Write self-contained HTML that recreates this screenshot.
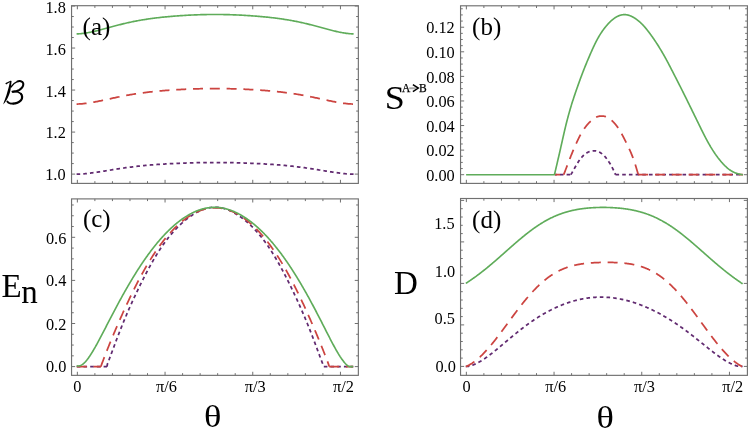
<!DOCTYPE html>
<html><head><meta charset="utf-8"><style>
html,body{margin:0;padding:0;background:#fff;}
body{width:750px;height:430px;overflow:hidden;font-family:"Liberation Serif",serif;}
svg{display:block;will-change:transform;}
</style></head><body>
<svg width="750" height="430" viewBox="0 0 750 430">
<rect width="750" height="430" fill="#fff"/>
<path d="M77.35 183.4v-3.6M77.35 5.7v3.6M94.89 183.4v-2.2M94.89 5.7v2.2M112.43 183.4v-2.2M112.43 5.7v2.2M129.97 183.4v-2.2M129.97 5.7v2.2M147.51 183.4v-2.2M147.51 5.7v2.2M165.05 183.4v-3.6M165.05 5.7v3.6M182.59 183.4v-2.2M182.59 5.7v2.2M200.13 183.4v-2.2M200.13 5.7v2.2M217.67 183.4v-2.2M217.67 5.7v2.2M235.21 183.4v-2.2M235.21 5.7v2.2M252.75 183.4v-3.6M252.75 5.7v3.6M270.29 183.4v-2.2M270.29 5.7v2.2M287.83 183.4v-2.2M287.83 5.7v2.2M305.37 183.4v-2.2M305.37 5.7v2.2M322.91 183.4v-2.2M322.91 5.7v2.2M340.45 183.4v-3.6M340.45 5.7v3.6M71.55 174.1h3.6M358.35 174.1h-3.6M71.55 163.59h2.2M358.35 163.59h-2.2M71.55 153.09h2.2M358.35 153.09h-2.2M71.55 142.58h2.2M358.35 142.58h-2.2M71.55 132.08h3.6M358.35 132.08h-3.6M71.55 121.57h2.2M358.35 121.57h-2.2M71.55 111.07h2.2M358.35 111.07h-2.2M71.55 100.56h2.2M358.35 100.56h-2.2M71.55 90.06h3.6M358.35 90.06h-3.6M71.55 79.55h2.2M358.35 79.55h-2.2M71.55 69.05h2.2M358.35 69.05h-2.2M71.55 58.54h2.2M358.35 58.54h-2.2M71.55 48.04h3.6M358.35 48.04h-3.6M71.55 37.53h2.2M358.35 37.53h-2.2M71.55 27.03h2.2M358.35 27.03h-2.2M71.55 16.52h2.2M358.35 16.52h-2.2M71.55 6.02h3.6M358.35 6.02h-3.6" stroke="#707070" stroke-width="1.0" fill="none"/>
<path d="M466.35 183.4v-3.6M466.35 5.8v3.6M483.89 183.4v-2.2M483.89 5.8v2.2M501.43 183.4v-2.2M501.43 5.8v2.2M518.97 183.4v-2.2M518.97 5.8v2.2M536.51 183.4v-2.2M536.51 5.8v2.2M554.05 183.4v-3.6M554.05 5.8v3.6M571.59 183.4v-2.2M571.59 5.8v2.2M589.13 183.4v-2.2M589.13 5.8v2.2M606.67 183.4v-2.2M606.67 5.8v2.2M624.21 183.4v-2.2M624.21 5.8v2.2M641.75 183.4v-3.6M641.75 5.8v3.6M659.29 183.4v-2.2M659.29 5.8v2.2M676.83 183.4v-2.2M676.83 5.8v2.2M694.37 183.4v-2.2M694.37 5.8v2.2M711.91 183.4v-2.2M711.91 5.8v2.2M729.45 183.4v-3.6M729.45 5.8v3.6M460.55 174.7h3.6M747.4 174.7h-3.6M460.55 168.55h2.2M747.4 168.55h-2.2M460.55 162.41h2.2M747.4 162.41h-2.2M460.55 156.26h2.2M747.4 156.26h-2.2M460.55 150.12h3.6M747.4 150.12h-3.6M460.55 143.97h2.2M747.4 143.97h-2.2M460.55 137.83h2.2M747.4 137.83h-2.2M460.55 131.69h2.2M747.4 131.69h-2.2M460.55 125.54h3.6M747.4 125.54h-3.6M460.55 119.39h2.2M747.4 119.39h-2.2M460.55 113.25h2.2M747.4 113.25h-2.2M460.55 107.1h2.2M747.4 107.1h-2.2M460.55 100.96h3.6M747.4 100.96h-3.6M460.55 94.81h2.2M747.4 94.81h-2.2M460.55 88.67h2.2M747.4 88.67h-2.2M460.55 82.52h2.2M747.4 82.52h-2.2M460.55 76.38h3.6M747.4 76.38h-3.6M460.55 70.23h2.2M747.4 70.23h-2.2M460.55 64.09h2.2M747.4 64.09h-2.2M460.55 57.94h2.2M747.4 57.94h-2.2M460.55 51.8h3.6M747.4 51.8h-3.6M460.55 45.66h2.2M747.4 45.66h-2.2M460.55 39.51h2.2M747.4 39.51h-2.2M460.55 33.36h2.2M747.4 33.36h-2.2M460.55 27.22h3.6M747.4 27.22h-3.6M460.55 21.07h2.2M747.4 21.07h-2.2M460.55 14.93h2.2M747.4 14.93h-2.2M460.55 8.78h2.2M747.4 8.78h-2.2" stroke="#707070" stroke-width="1.0" fill="none"/>
<path d="M77.35 375.35v-3.6M77.35 198.9v3.6M94.89 375.35v-2.2M94.89 198.9v2.2M112.43 375.35v-2.2M112.43 198.9v2.2M129.97 375.35v-2.2M129.97 198.9v2.2M147.51 375.35v-2.2M147.51 198.9v2.2M165.05 375.35v-3.6M165.05 198.9v3.6M182.59 375.35v-2.2M182.59 198.9v2.2M200.13 375.35v-2.2M200.13 198.9v2.2M217.67 375.35v-2.2M217.67 198.9v2.2M235.21 375.35v-2.2M235.21 198.9v2.2M252.75 375.35v-3.6M252.75 198.9v3.6M270.29 375.35v-2.2M270.29 198.9v2.2M287.83 375.35v-2.2M287.83 198.9v2.2M305.37 375.35v-2.2M305.37 198.9v2.2M322.91 375.35v-2.2M322.91 198.9v2.2M340.45 375.35v-3.6M340.45 198.9v3.6M71.55 366.6h3.6M358.35 366.6h-3.6M71.55 355.83h2.2M358.35 355.83h-2.2M71.55 345.05h2.2M358.35 345.05h-2.2M71.55 334.28h2.2M358.35 334.28h-2.2M71.55 323.5h3.6M358.35 323.5h-3.6M71.55 312.73h2.2M358.35 312.73h-2.2M71.55 301.95h2.2M358.35 301.95h-2.2M71.55 291.18h2.2M358.35 291.18h-2.2M71.55 280.4h3.6M358.35 280.4h-3.6M71.55 269.62h2.2M358.35 269.62h-2.2M71.55 258.85h2.2M358.35 258.85h-2.2M71.55 248.08h2.2M358.35 248.08h-2.2M71.55 237.3h3.6M358.35 237.3h-3.6M71.55 226.53h2.2M358.35 226.53h-2.2M71.55 215.75h2.2M358.35 215.75h-2.2M71.55 204.98h2.2M358.35 204.98h-2.2" stroke="#707070" stroke-width="1.0" fill="none"/>
<path d="M466.35 375.35v-3.6M466.35 198.5v3.6M483.89 375.35v-2.2M483.89 198.5v2.2M501.43 375.35v-2.2M501.43 198.5v2.2M518.97 375.35v-2.2M518.97 198.5v2.2M536.51 375.35v-2.2M536.51 198.5v2.2M554.05 375.35v-3.6M554.05 198.5v3.6M571.59 375.35v-2.2M571.59 198.5v2.2M589.13 375.35v-2.2M589.13 198.5v2.2M606.67 375.35v-2.2M606.67 198.5v2.2M624.21 375.35v-2.2M624.21 198.5v2.2M641.75 375.35v-3.6M641.75 198.5v3.6M659.29 375.35v-2.2M659.29 198.5v2.2M676.83 375.35v-2.2M676.83 198.5v2.2M694.37 375.35v-2.2M694.37 198.5v2.2M711.91 375.35v-2.2M711.91 198.5v2.2M729.45 375.35v-3.6M729.45 198.5v3.6M460.55 366.4h3.6M747.4 366.4h-3.6M460.55 358.1h2.2M747.4 358.1h-2.2M460.55 349.8h2.2M747.4 349.8h-2.2M460.55 341.5h2.2M747.4 341.5h-2.2M460.55 333.2h2.2M747.4 333.2h-2.2M460.55 324.9h3.6M747.4 324.9h-3.6M460.55 316.6h2.2M747.4 316.6h-2.2M460.55 308.3h2.2M747.4 308.3h-2.2M460.55 300h2.2M747.4 300h-2.2M460.55 291.7h2.2M747.4 291.7h-2.2M460.55 283.4h3.6M747.4 283.4h-3.6M460.55 275.1h2.2M747.4 275.1h-2.2M460.55 266.8h2.2M747.4 266.8h-2.2M460.55 258.5h2.2M747.4 258.5h-2.2M460.55 250.2h2.2M747.4 250.2h-2.2M460.55 241.9h3.6M747.4 241.9h-3.6M460.55 233.6h2.2M747.4 233.6h-2.2M460.55 225.3h2.2M747.4 225.3h-2.2M460.55 217h2.2M747.4 217h-2.2M460.55 208.7h2.2M747.4 208.7h-2.2M460.55 200.4h3.6M747.4 200.4h-3.6" stroke="#707070" stroke-width="1.0" fill="none"/>
<clipPath id="clipa"><rect x="71.55" y="5.7" width="286.8" height="177.7"/></clipPath>
<clipPath id="clipb"><rect x="460.55" y="5.8" width="286.85" height="177.6"/></clipPath>
<clipPath id="clipc"><rect x="71.55" y="198.9" width="286.8" height="176.45"/></clipPath>
<clipPath id="clipd"><rect x="460.55" y="198.5" width="286.85" height="176.85"/></clipPath>
<clipPath id="clipb2"><rect x="554.9" y="5" width="193" height="179"/></clipPath>
<path d="M76.6 174.1 L77.53 174.09 L78.45 174.07 L79.38 174.04 L80.31 174 L81.23 173.95 L82.16 173.89 L83.08 173.83 L84.01 173.76 L84.94 173.69 L85.86 173.6 L86.79 173.51 L87.72 173.42 L88.64 173.32 L89.57 173.21 L90.5 173.1 L91.42 172.99 L92.35 172.87 L93.28 172.74 L94.2 172.62 L95.13 172.49 L96.05 172.35 L96.98 172.22 L97.91 172.08 L98.83 171.94 L99.76 171.8 L100.69 171.65 L101.61 171.5 L102.54 171.36 L103.47 171.21 L104.39 171.06 L105.32 170.91 L106.25 170.76 L107.17 170.61 L108.1 170.46 L109.02 170.31 L109.95 170.15 L110.88 170 L111.8 169.85 L112.73 169.7 L113.66 169.56 L114.58 169.41 L115.51 169.26 L116.44 169.12 L117.36 168.97 L118.29 168.83 L119.22 168.69 L120.14 168.55 L121.07 168.41 L121.99 168.27 L122.92 168.14 L123.85 168 L124.77 167.87 L125.7 167.74 L126.63 167.61 L127.55 167.49 L128.48 167.36 L129.41 167.24 L130.33 167.12 L131.26 167.01 L132.19 166.89 L133.11 166.78 L134.04 166.66 L134.96 166.55 L135.89 166.45 L136.82 166.34 L137.74 166.24 L138.67 166.14 L139.6 166.04 L140.52 165.94 L141.45 165.84 L142.38 165.75 L143.3 165.66 L144.23 165.57 L145.16 165.48 L146.08 165.39 L147.01 165.31 L147.93 165.23 L148.86 165.15 L149.79 165.07 L150.71 164.99 L151.64 164.92 L152.57 164.84 L153.49 164.77 L154.42 164.7 L155.35 164.63 L156.27 164.56 L157.2 164.49 L158.13 164.43 L159.05 164.37 L159.98 164.3 L160.9 164.24 L161.83 164.18 L162.76 164.12 L163.68 164.07 L164.61 164.01 L165.54 163.96 L166.46 163.9 L167.39 163.85 L168.32 163.8 L169.24 163.75 L170.17 163.7 L171.09 163.65 L172.02 163.61 L172.95 163.56 L173.87 163.52 L174.8 163.47 L175.73 163.43 L176.65 163.39 L177.58 163.35 L178.51 163.31 L179.43 163.27 L180.36 163.23 L181.29 163.19 L182.21 163.16 L183.14 163.12 L184.06 163.09 L184.99 163.05 L185.92 163.02 L186.84 162.99 L187.77 162.96 L188.7 162.93 L189.62 162.9 L190.55 162.87 L191.48 162.85 L192.4 162.82 L193.33 162.79 L194.26 162.77 L195.18 162.75 L196.11 162.73 L197.03 162.71 L197.96 162.69 L198.89 162.67 L199.81 162.65 L200.74 162.63 L201.67 162.62 L202.59 162.6 L203.52 162.59 L204.45 162.57 L205.37 162.56 L206.3 162.55 L207.23 162.54 L208.15 162.53 L209.08 162.53 L210 162.52 L210.93 162.51 L211.86 162.51 L212.78 162.51 L213.71 162.51 L214.64 162.5 L215.56 162.5 L216.49 162.51 L217.42 162.51 L218.34 162.51 L219.27 162.51 L220.2 162.52 L221.12 162.53 L222.05 162.53 L222.97 162.54 L223.9 162.55 L224.83 162.56 L225.75 162.57 L226.68 162.59 L227.61 162.6 L228.53 162.62 L229.46 162.63 L230.39 162.65 L231.31 162.67 L232.24 162.69 L233.17 162.71 L234.09 162.73 L235.02 162.75 L235.94 162.77 L236.87 162.79 L237.8 162.82 L238.72 162.85 L239.65 162.87 L240.58 162.9 L241.5 162.93 L242.43 162.96 L243.36 162.99 L244.28 163.02 L245.21 163.05 L246.14 163.09 L247.06 163.12 L247.99 163.16 L248.91 163.19 L249.84 163.23 L250.77 163.27 L251.69 163.31 L252.62 163.35 L253.55 163.39 L254.47 163.43 L255.4 163.47 L256.33 163.52 L257.25 163.56 L258.18 163.61 L259.11 163.65 L260.03 163.7 L260.96 163.75 L261.88 163.8 L262.81 163.85 L263.74 163.9 L264.66 163.96 L265.59 164.01 L266.52 164.07 L267.44 164.12 L268.37 164.18 L269.3 164.24 L270.22 164.3 L271.15 164.37 L272.07 164.43 L273 164.49 L273.93 164.56 L274.85 164.63 L275.78 164.7 L276.71 164.77 L277.63 164.84 L278.56 164.92 L279.49 164.99 L280.41 165.07 L281.34 165.15 L282.27 165.23 L283.19 165.31 L284.12 165.39 L285.04 165.48 L285.97 165.57 L286.9 165.66 L287.82 165.75 L288.75 165.84 L289.68 165.94 L290.6 166.04 L291.53 166.14 L292.46 166.24 L293.38 166.34 L294.31 166.45 L295.24 166.55 L296.16 166.66 L297.09 166.78 L298.01 166.89 L298.94 167.01 L299.87 167.12 L300.79 167.24 L301.72 167.36 L302.65 167.49 L303.57 167.61 L304.5 167.74 L305.43 167.87 L306.35 168 L307.28 168.14 L308.21 168.27 L309.13 168.41 L310.06 168.55 L310.98 168.69 L311.91 168.83 L312.84 168.97 L313.76 169.12 L314.69 169.26 L315.62 169.41 L316.54 169.56 L317.47 169.7 L318.4 169.85 L319.32 170 L320.25 170.15 L321.18 170.31 L322.1 170.46 L323.03 170.61 L323.95 170.76 L324.88 170.91 L325.81 171.06 L326.73 171.21 L327.66 171.36 L328.59 171.5 L329.51 171.65 L330.44 171.8 L331.37 171.94 L332.29 172.08 L333.22 172.22 L334.15 172.35 L335.07 172.49 L336 172.62 L336.92 172.74 L337.85 172.87 L338.78 172.99 L339.7 173.1 L340.63 173.21 L341.56 173.32 L342.48 173.42 L343.41 173.51 L344.34 173.6 L345.26 173.69 L346.19 173.76 L347.12 173.83 L348.04 173.89 L348.97 173.95 L349.89 174 L350.82 174.04 L351.75 174.07 L352.67 174.09 L353.6 174.1" stroke="#612a70" stroke-width="1.75" fill="none" stroke-linejoin="round" stroke-dasharray="3.6 3.1" clip-path="url(#clipa)"/>
<path d="M76.6 104.04 L77.53 104.03 L78.45 104 L79.38 103.96 L80.31 103.91 L81.23 103.84 L82.16 103.77 L83.08 103.69 L84.01 103.59 L84.94 103.49 L85.86 103.38 L86.79 103.26 L87.72 103.13 L88.64 103 L89.57 102.86 L90.5 102.71 L91.42 102.56 L92.35 102.4 L93.28 102.23 L94.2 102.06 L95.13 101.89 L96.05 101.71 L96.98 101.53 L97.91 101.34 L98.83 101.16 L99.76 100.96 L100.69 100.77 L101.61 100.58 L102.54 100.38 L103.47 100.18 L104.39 99.98 L105.32 99.78 L106.25 99.58 L107.17 99.38 L108.1 99.18 L109.02 98.97 L109.95 98.77 L110.88 98.57 L111.8 98.37 L112.73 98.17 L113.66 97.97 L114.58 97.78 L115.51 97.58 L116.44 97.39 L117.36 97.19 L118.29 97 L119.22 96.81 L120.14 96.63 L121.07 96.44 L121.99 96.26 L122.92 96.08 L123.85 95.9 L124.77 95.72 L125.7 95.55 L126.63 95.38 L127.55 95.21 L128.48 95.05 L129.41 94.88 L130.33 94.72 L131.26 94.57 L132.19 94.41 L133.11 94.26 L134.04 94.11 L134.96 93.96 L135.89 93.82 L136.82 93.68 L137.74 93.54 L138.67 93.4 L139.6 93.27 L140.52 93.14 L141.45 93.01 L142.38 92.89 L143.3 92.77 L144.23 92.65 L145.16 92.53 L146.08 92.41 L147.01 92.3 L147.93 92.19 L148.86 92.08 L149.79 91.98 L150.71 91.87 L151.64 91.77 L152.57 91.67 L153.49 91.58 L154.42 91.48 L155.35 91.39 L156.27 91.3 L157.2 91.21 L158.13 91.12 L159.05 91.04 L159.98 90.96 L160.9 90.87 L161.83 90.79 L162.76 90.72 L163.68 90.64 L164.61 90.57 L165.54 90.49 L166.46 90.42 L167.39 90.35 L168.32 90.28 L169.24 90.22 L170.17 90.15 L171.09 90.09 L172.02 90.02 L172.95 89.96 L173.87 89.9 L174.8 89.84 L175.73 89.79 L176.65 89.73 L177.58 89.68 L178.51 89.62 L179.43 89.57 L180.36 89.52 L181.29 89.47 L182.21 89.42 L183.14 89.37 L184.06 89.33 L184.99 89.28 L185.92 89.24 L186.84 89.2 L187.77 89.16 L188.7 89.12 L189.62 89.08 L190.55 89.04 L191.48 89.01 L192.4 88.97 L193.33 88.94 L194.26 88.91 L195.18 88.88 L196.11 88.85 L197.03 88.82 L197.96 88.79 L198.89 88.77 L199.81 88.75 L200.74 88.72 L201.67 88.7 L202.59 88.68 L203.52 88.66 L204.45 88.65 L205.37 88.63 L206.3 88.62 L207.23 88.6 L208.15 88.59 L209.08 88.58 L210 88.57 L210.93 88.57 L211.86 88.56 L212.78 88.56 L213.71 88.55 L214.64 88.55 L215.56 88.55 L216.49 88.55 L217.42 88.56 L218.34 88.56 L219.27 88.57 L220.2 88.57 L221.12 88.58 L222.05 88.59 L222.97 88.6 L223.9 88.62 L224.83 88.63 L225.75 88.65 L226.68 88.66 L227.61 88.68 L228.53 88.7 L229.46 88.72 L230.39 88.75 L231.31 88.77 L232.24 88.79 L233.17 88.82 L234.09 88.85 L235.02 88.88 L235.94 88.91 L236.87 88.94 L237.8 88.97 L238.72 89.01 L239.65 89.04 L240.58 89.08 L241.5 89.12 L242.43 89.16 L243.36 89.2 L244.28 89.24 L245.21 89.28 L246.14 89.33 L247.06 89.37 L247.99 89.42 L248.91 89.47 L249.84 89.52 L250.77 89.57 L251.69 89.62 L252.62 89.68 L253.55 89.73 L254.47 89.79 L255.4 89.84 L256.33 89.9 L257.25 89.96 L258.18 90.02 L259.11 90.09 L260.03 90.15 L260.96 90.22 L261.88 90.28 L262.81 90.35 L263.74 90.42 L264.66 90.49 L265.59 90.57 L266.52 90.64 L267.44 90.72 L268.37 90.79 L269.3 90.87 L270.22 90.96 L271.15 91.04 L272.07 91.12 L273 91.21 L273.93 91.3 L274.85 91.39 L275.78 91.48 L276.71 91.58 L277.63 91.67 L278.56 91.77 L279.49 91.87 L280.41 91.98 L281.34 92.08 L282.27 92.19 L283.19 92.3 L284.12 92.41 L285.04 92.53 L285.97 92.65 L286.9 92.77 L287.82 92.89 L288.75 93.01 L289.68 93.14 L290.6 93.27 L291.53 93.4 L292.46 93.54 L293.38 93.68 L294.31 93.82 L295.24 93.96 L296.16 94.11 L297.09 94.26 L298.01 94.41 L298.94 94.57 L299.87 94.72 L300.79 94.88 L301.72 95.05 L302.65 95.21 L303.57 95.38 L304.5 95.55 L305.43 95.72 L306.35 95.9 L307.28 96.08 L308.21 96.26 L309.13 96.44 L310.06 96.63 L310.98 96.81 L311.91 97 L312.84 97.19 L313.76 97.39 L314.69 97.58 L315.62 97.78 L316.54 97.97 L317.47 98.17 L318.4 98.37 L319.32 98.57 L320.25 98.77 L321.18 98.97 L322.1 99.18 L323.03 99.38 L323.95 99.58 L324.88 99.78 L325.81 99.98 L326.73 100.18 L327.66 100.38 L328.59 100.58 L329.51 100.77 L330.44 100.96 L331.37 101.16 L332.29 101.34 L333.22 101.53 L334.15 101.71 L335.07 101.89 L336 102.06 L336.92 102.23 L337.85 102.4 L338.78 102.56 L339.7 102.71 L340.63 102.86 L341.56 103 L342.48 103.13 L343.41 103.26 L344.34 103.38 L345.26 103.49 L346.19 103.59 L347.12 103.69 L348.04 103.77 L348.97 103.84 L349.89 103.91 L350.82 103.96 L351.75 104 L352.67 104.03 L353.6 104.04" stroke="#cc4440" stroke-width="1.75" fill="none" stroke-linejoin="round" stroke-dasharray="10 6.8" clip-path="url(#clipa)"/>
<path d="M76.6 33.87 L77.53 33.85 L78.45 33.81 L79.38 33.76 L80.31 33.7 L81.23 33.62 L82.16 33.53 L83.08 33.42 L84.01 33.31 L84.94 33.18 L85.86 33.04 L86.79 32.89 L87.72 32.73 L88.64 32.56 L89.57 32.38 L90.5 32.2 L91.42 32.01 L92.35 31.81 L93.28 31.6 L94.2 31.39 L95.13 31.17 L96.05 30.95 L96.98 30.72 L97.91 30.49 L98.83 30.25 L99.76 30.02 L100.69 29.77 L101.61 29.53 L102.54 29.28 L103.47 29.03 L104.39 28.78 L105.32 28.53 L106.25 28.28 L107.17 28.03 L108.1 27.78 L109.02 27.52 L109.95 27.27 L110.88 27.02 L111.8 26.77 L112.73 26.52 L113.66 26.27 L114.58 26.02 L115.51 25.78 L116.44 25.53 L117.36 25.29 L118.29 25.05 L119.22 24.82 L120.14 24.58 L121.07 24.35 L121.99 24.12 L122.92 23.9 L123.85 23.67 L124.77 23.45 L125.7 23.24 L126.63 23.02 L127.55 22.81 L128.48 22.6 L129.41 22.4 L130.33 22.2 L131.26 22 L132.19 21.81 L133.11 21.62 L134.04 21.43 L134.96 21.25 L135.89 21.07 L136.82 20.89 L137.74 20.72 L138.67 20.55 L139.6 20.38 L140.52 20.22 L141.45 20.06 L142.38 19.9 L143.3 19.75 L144.23 19.6 L145.16 19.45 L146.08 19.31 L147.01 19.17 L147.93 19.03 L148.86 18.9 L149.79 18.76 L150.71 18.63 L151.64 18.51 L152.57 18.38 L153.49 18.26 L154.42 18.14 L155.35 18.03 L156.27 17.91 L157.2 17.8 L158.13 17.7 L159.05 17.59 L159.98 17.48 L160.9 17.38 L161.83 17.28 L162.76 17.19 L163.68 17.09 L164.61 17 L165.54 16.91 L166.46 16.82 L167.39 16.73 L168.32 16.64 L169.24 16.56 L170.17 16.48 L171.09 16.4 L172.02 16.32 L172.95 16.24 L173.87 16.17 L174.8 16.09 L175.73 16.02 L176.65 15.95 L177.58 15.88 L178.51 15.82 L179.43 15.75 L180.36 15.69 L181.29 15.62 L182.21 15.56 L183.14 15.51 L184.06 15.45 L184.99 15.39 L185.92 15.34 L186.84 15.29 L187.77 15.23 L188.7 15.18 L189.62 15.14 L190.55 15.09 L191.48 15.05 L192.4 15 L193.33 14.96 L194.26 14.92 L195.18 14.88 L196.11 14.85 L197.03 14.81 L197.96 14.78 L198.89 14.75 L199.81 14.72 L200.74 14.69 L201.67 14.66 L202.59 14.64 L203.52 14.61 L204.45 14.59 L205.37 14.57 L206.3 14.56 L207.23 14.54 L208.15 14.52 L209.08 14.51 L210 14.5 L210.93 14.49 L211.86 14.49 L212.78 14.48 L213.71 14.48 L214.64 14.47 L215.56 14.47 L216.49 14.48 L217.42 14.48 L218.34 14.49 L219.27 14.49 L220.2 14.5 L221.12 14.51 L222.05 14.52 L222.97 14.54 L223.9 14.56 L224.83 14.57 L225.75 14.59 L226.68 14.61 L227.61 14.64 L228.53 14.66 L229.46 14.69 L230.39 14.72 L231.31 14.75 L232.24 14.78 L233.17 14.81 L234.09 14.85 L235.02 14.88 L235.94 14.92 L236.87 14.96 L237.8 15 L238.72 15.05 L239.65 15.09 L240.58 15.14 L241.5 15.18 L242.43 15.23 L243.36 15.29 L244.28 15.34 L245.21 15.39 L246.14 15.45 L247.06 15.51 L247.99 15.56 L248.91 15.62 L249.84 15.69 L250.77 15.75 L251.69 15.82 L252.62 15.88 L253.55 15.95 L254.47 16.02 L255.4 16.09 L256.33 16.17 L257.25 16.24 L258.18 16.32 L259.11 16.4 L260.03 16.48 L260.96 16.56 L261.88 16.64 L262.81 16.73 L263.74 16.82 L264.66 16.91 L265.59 17 L266.52 17.09 L267.44 17.19 L268.37 17.28 L269.3 17.38 L270.22 17.48 L271.15 17.59 L272.07 17.7 L273 17.8 L273.93 17.91 L274.85 18.03 L275.78 18.14 L276.71 18.26 L277.63 18.38 L278.56 18.51 L279.49 18.63 L280.41 18.76 L281.34 18.9 L282.27 19.03 L283.19 19.17 L284.12 19.31 L285.04 19.45 L285.97 19.6 L286.9 19.75 L287.82 19.9 L288.75 20.06 L289.68 20.22 L290.6 20.38 L291.53 20.55 L292.46 20.72 L293.38 20.89 L294.31 21.07 L295.24 21.25 L296.16 21.43 L297.09 21.62 L298.01 21.81 L298.94 22 L299.87 22.2 L300.79 22.4 L301.72 22.6 L302.65 22.81 L303.57 23.02 L304.5 23.24 L305.43 23.45 L306.35 23.67 L307.28 23.9 L308.21 24.12 L309.13 24.35 L310.06 24.58 L310.98 24.82 L311.91 25.05 L312.84 25.29 L313.76 25.53 L314.69 25.78 L315.62 26.02 L316.54 26.27 L317.47 26.52 L318.4 26.77 L319.32 27.02 L320.25 27.27 L321.18 27.52 L322.1 27.78 L323.03 28.03 L323.95 28.28 L324.88 28.53 L325.81 28.78 L326.73 29.03 L327.66 29.28 L328.59 29.53 L329.51 29.77 L330.44 30.02 L331.37 30.25 L332.29 30.49 L333.22 30.72 L334.15 30.95 L335.07 31.17 L336 31.39 L336.92 31.6 L337.85 31.81 L338.78 32.01 L339.7 32.2 L340.63 32.38 L341.56 32.56 L342.48 32.73 L343.41 32.89 L344.34 33.04 L345.26 33.18 L346.19 33.31 L347.12 33.42 L348.04 33.53 L348.97 33.62 L349.89 33.7 L350.82 33.76 L351.75 33.81 L352.67 33.85 L353.6 33.87" stroke="#5fac5a" stroke-width="1.65" fill="none" stroke-linejoin="round" clip-path="url(#clipa)"/>
<path d="M466.1 174.7 L570.9 174.7 M570.9 174.7 L571.2 174.16 L571.5 173.62 L571.8 173.09 L572.1 172.56 L572.4 172.03 L572.7 171.49 L573 170.96 L573.29 170.43 L573.59 169.9 L573.89 169.38 L574.19 168.85 L574.49 168.32 L574.79 167.8 L575.09 167.27 L575.39 166.75 L575.69 166.23 L575.99 165.71 L576.29 165.2 L576.59 164.69 L576.89 164.18 L577.19 163.68 L577.49 163.19 L577.78 162.71 L578.08 162.23 L578.38 161.76 L578.68 161.31 L578.98 160.86 L579.28 160.42 L579.58 159.99 L579.88 159.58 L580.18 159.18 L580.48 158.78 L580.78 158.4 L581.08 158.03 L581.38 157.67 L581.68 157.33 L581.98 156.99 L582.27 156.66 L582.57 156.35 L582.87 156.04 L583.17 155.75 L583.47 155.46 L583.77 155.19 L584.07 154.92 L584.37 154.67 L584.67 154.42 L584.97 154.18 L585.27 153.95 L585.57 153.73 L585.87 153.51 L586.17 153.3 L586.47 153.1 L586.76 152.91 L587.06 152.73 L587.36 152.56 L587.66 152.39 L587.96 152.23 L588.26 152.08 L588.56 151.94 L588.86 151.81 L589.16 151.68 L589.46 151.57 L589.76 151.46 L590.06 151.36 L590.36 151.27 L590.66 151.19 L590.96 151.11 L591.25 151.04 L591.55 150.98 L591.85 150.93 L592.15 150.89 L592.45 150.85 L592.75 150.82 L593.05 150.8 L593.35 150.78 L593.65 150.78 L593.95 150.78 L594.25 150.78 L594.55 150.79 L594.85 150.81 L595.15 150.84 L595.44 150.88 L595.74 150.92 L596.04 150.97 L596.34 151.03 L596.64 151.1 L596.94 151.17 L597.24 151.26 L597.54 151.35 L597.84 151.45 L598.14 151.56 L598.44 151.67 L598.74 151.8 L599.04 151.94 L599.34 152.08 L599.64 152.24 L599.93 152.4 L600.23 152.57 L600.53 152.76 L600.83 152.95 L601.13 153.15 L601.43 153.37 L601.73 153.59 L602.03 153.82 L602.33 154.07 L602.63 154.32 L602.93 154.58 L603.23 154.85 L603.53 155.14 L603.83 155.43 L604.13 155.73 L604.42 156.04 L604.72 156.37 L605.02 156.7 L605.32 157.04 L605.62 157.4 L605.92 157.76 L606.22 158.13 L606.52 158.51 L606.82 158.91 L607.12 159.31 L607.42 159.72 L607.72 160.14 L608.02 160.57 L608.32 161 L608.62 161.45 L608.91 161.91 L609.21 162.37 L609.51 162.84 L609.81 163.32 L610.11 163.81 L610.41 164.31 L610.71 164.83 L611.01 165.35 L611.31 165.88 L611.61 166.43 L611.91 166.98 L612.21 167.55 L612.51 168.14 L612.81 168.73 L613.11 169.34 L613.4 169.96 L613.7 170.59 L614 171.24 L614.3 171.89 L614.6 172.54 L614.9 173.2 L615.2 173.86 L615.5 174.7 M615.5 174.7 L742.9 174.7" stroke="#612a70" stroke-width="1.75" fill="none" stroke-linejoin="round" stroke-dasharray="3.6 3.1" clip-path="url(#clipb2)"/>
<path d="M466.1 174.7 L563.7 174.7 M563.7 174.7 L564 173.94 L564.3 173.16 L564.6 172.38 L564.9 171.6 L565.2 170.83 L565.5 170.05 L565.79 169.27 L566.09 168.49 L566.39 167.71 L566.69 166.93 L566.99 166.15 L567.29 165.36 L567.59 164.58 L567.89 163.8 L568.19 163.01 L568.49 162.23 L568.79 161.45 L569.09 160.66 L569.38 159.89 L569.68 159.11 L569.98 158.34 L570.28 157.57 L570.58 156.81 L570.88 156.05 L571.18 155.29 L571.48 154.55 L571.78 153.81 L572.08 153.07 L572.38 152.34 L572.68 151.62 L572.98 150.9 L573.27 150.19 L573.57 149.49 L573.87 148.79 L574.17 148.1 L574.47 147.41 L574.77 146.73 L575.07 146.05 L575.37 145.38 L575.67 144.72 L575.97 144.06 L576.27 143.4 L576.57 142.75 L576.86 142.1 L577.16 141.46 L577.46 140.82 L577.76 140.18 L578.06 139.55 L578.36 138.92 L578.66 138.3 L578.96 137.69 L579.26 137.09 L579.56 136.49 L579.86 135.91 L580.16 135.34 L580.46 134.78 L580.75 134.23 L581.05 133.7 L581.35 133.18 L581.65 132.67 L581.95 132.17 L582.25 131.68 L582.55 131.2 L582.85 130.73 L583.15 130.27 L583.45 129.82 L583.75 129.38 L584.05 128.95 L584.34 128.52 L584.64 128.11 L584.94 127.7 L585.24 127.3 L585.54 126.9 L585.84 126.51 L586.14 126.13 L586.44 125.76 L586.74 125.39 L587.04 125.03 L587.34 124.68 L587.64 124.34 L587.93 124 L588.23 123.67 L588.53 123.34 L588.83 123.02 L589.13 122.71 L589.43 122.4 L589.73 122.1 L590.03 121.8 L590.33 121.51 L590.63 121.23 L590.93 120.95 L591.23 120.68 L591.53 120.42 L591.82 120.16 L592.12 119.9 L592.42 119.66 L592.72 119.42 L593.02 119.19 L593.32 118.96 L593.62 118.75 L593.92 118.54 L594.22 118.34 L594.52 118.14 L594.82 117.96 L595.12 117.78 L595.41 117.61 L595.71 117.45 L596.01 117.3 L596.31 117.16 L596.61 117.03 L596.91 116.91 L597.21 116.79 L597.51 116.69 L597.81 116.59 L598.11 116.5 L598.41 116.42 L598.71 116.35 L599.01 116.28 L599.3 116.22 L599.6 116.17 L599.9 116.13 L600.2 116.09 L600.5 116.06 L600.8 116.04 L601.1 116.02 L601.4 116.01 L601.7 116.01 L602 116.01 L602.3 116.02 L602.6 116.04 L602.89 116.07 L603.19 116.1 L603.49 116.14 L603.79 116.18 L604.09 116.24 L604.39 116.3 L604.69 116.37 L604.99 116.45 L605.29 116.54 L605.59 116.64 L605.89 116.74 L606.19 116.86 L606.49 116.98 L606.78 117.11 L607.08 117.25 L607.38 117.4 L607.68 117.56 L607.98 117.73 L608.28 117.9 L608.58 118.08 L608.88 118.27 L609.18 118.47 L609.48 118.68 L609.78 118.89 L610.08 119.11 L610.37 119.34 L610.67 119.58 L610.97 119.82 L611.27 120.08 L611.57 120.34 L611.87 120.6 L612.17 120.88 L612.47 121.16 L612.77 121.45 L613.07 121.75 L613.37 122.05 L613.67 122.36 L613.97 122.68 L614.26 123.01 L614.56 123.35 L614.86 123.69 L615.16 124.04 L615.46 124.39 L615.76 124.76 L616.06 125.13 L616.36 125.51 L616.66 125.89 L616.96 126.29 L617.26 126.7 L617.56 127.11 L617.85 127.53 L618.15 127.97 L618.45 128.41 L618.75 128.87 L619.05 129.33 L619.35 129.81 L619.65 130.3 L619.95 130.79 L620.25 131.3 L620.55 131.81 L620.85 132.34 L621.15 132.87 L621.44 133.4 L621.74 133.95 L622.04 134.5 L622.34 135.06 L622.64 135.62 L622.94 136.19 L623.24 136.77 L623.54 137.35 L623.84 137.93 L624.14 138.51 L624.44 139.1 L624.74 139.69 L625.04 140.29 L625.33 140.88 L625.63 141.48 L625.93 142.08 L626.23 142.68 L626.53 143.28 L626.83 143.88 L627.13 144.49 L627.43 145.1 L627.73 145.71 L628.03 146.33 L628.33 146.95 L628.63 147.58 L628.92 148.22 L629.22 148.86 L629.52 149.51 L629.82 150.17 L630.12 150.83 L630.42 151.51 L630.72 152.2 L631.02 152.9 L631.32 153.61 L631.62 154.33 L631.92 155.07 L632.22 155.83 L632.52 156.6 L632.81 157.38 L633.11 158.19 L633.41 159.01 L633.71 159.85 L634.01 160.71 L634.31 161.59 L634.61 162.48 L634.91 163.39 L635.21 164.32 L635.51 165.27 L635.81 166.23 L636.11 167.21 L636.4 168.2 L636.7 169.2 L637 170.22 L637.3 171.24 L637.6 172.26 L637.9 173.3 L638.2 174.7 M638.2 174.7 L742.9 174.7" stroke="#cc4440" stroke-width="1.75" fill="none" stroke-linejoin="round" stroke-dasharray="10 6.8" clip-path="url(#clipb2)"/>
<path d="M466.1 174.7 L554.4 174.7 L554.71 173.59 L555.03 172.26 L555.34 170.92 L555.66 169.58 L555.97 168.25 L556.29 166.91 L556.6 165.56 L556.92 164.22 L557.23 162.87 L557.55 161.52 L557.86 160.17 L558.18 158.81 L558.49 157.45 L558.81 156.08 L559.12 154.72 L559.44 153.34 L559.75 151.96 L560.06 150.58 L560.38 149.2 L560.69 147.81 L561.01 146.42 L561.32 145.02 L561.64 143.62 L561.95 142.22 L562.27 140.82 L562.58 139.42 L562.9 138.02 L563.21 136.63 L563.53 135.24 L563.84 133.86 L564.16 132.49 L564.47 131.14 L564.78 129.79 L565.1 128.46 L565.41 127.14 L565.73 125.84 L566.04 124.56 L566.36 123.29 L566.67 122.03 L566.99 120.8 L567.3 119.58 L567.62 118.37 L567.93 117.19 L568.25 116.02 L568.56 114.86 L568.88 113.72 L569.19 112.6 L569.51 111.49 L569.82 110.4 L570.13 109.32 L570.45 108.25 L570.76 107.2 L571.08 106.16 L571.39 105.13 L571.71 104.11 L572.02 103.1 L572.34 102.1 L572.65 101.12 L572.97 100.14 L573.28 99.17 L573.6 98.21 L573.91 97.25 L574.23 96.31 L574.54 95.37 L574.85 94.43 L575.17 93.51 L575.48 92.59 L575.8 91.67 L576.11 90.76 L576.43 89.85 L576.74 88.95 L577.06 88.05 L577.37 87.15 L577.69 86.26 L578 85.37 L578.32 84.49 L578.63 83.61 L578.95 82.73 L579.26 81.86 L579.58 80.99 L579.89 80.13 L580.2 79.27 L580.52 78.41 L580.83 77.56 L581.15 76.71 L581.46 75.87 L581.78 75.03 L582.09 74.19 L582.41 73.36 L582.72 72.54 L583.04 71.72 L583.35 70.9 L583.67 70.09 L583.98 69.29 L584.3 68.49 L584.61 67.7 L584.93 66.91 L585.24 66.13 L585.55 65.36 L585.87 64.58 L586.18 63.82 L586.5 63.06 L586.81 62.3 L587.13 61.54 L587.44 60.79 L587.76 60.05 L588.07 59.3 L588.39 58.56 L588.7 57.83 L589.02 57.09 L589.33 56.36 L589.65 55.63 L589.96 54.9 L590.27 54.17 L590.59 53.45 L590.9 52.73 L591.22 52.02 L591.53 51.3 L591.85 50.6 L592.16 49.89 L592.48 49.2 L592.79 48.5 L593.11 47.82 L593.42 47.14 L593.74 46.47 L594.05 45.8 L594.37 45.14 L594.68 44.48 L595 43.84 L595.31 43.2 L595.62 42.57 L595.94 41.94 L596.25 41.33 L596.57 40.72 L596.88 40.12 L597.2 39.53 L597.51 38.96 L597.83 38.39 L598.14 37.82 L598.46 37.27 L598.77 36.73 L599.09 36.19 L599.4 35.66 L599.72 35.14 L600.03 34.63 L600.34 34.13 L600.66 33.64 L600.97 33.15 L601.29 32.67 L601.6 32.2 L601.92 31.74 L602.23 31.28 L602.55 30.83 L602.86 30.39 L603.18 29.95 L603.49 29.52 L603.81 29.1 L604.12 28.69 L604.44 28.28 L604.75 27.87 L605.07 27.47 L605.38 27.08 L605.69 26.69 L606.01 26.31 L606.32 25.93 L606.64 25.56 L606.95 25.19 L607.27 24.83 L607.58 24.48 L607.9 24.12 L608.21 23.78 L608.53 23.44 L608.84 23.1 L609.16 22.77 L609.47 22.45 L609.79 22.13 L610.1 21.82 L610.42 21.52 L610.73 21.22 L611.04 20.93 L611.36 20.64 L611.67 20.36 L611.99 20.09 L612.3 19.82 L612.62 19.56 L612.93 19.31 L613.25 19.06 L613.56 18.82 L613.88 18.59 L614.19 18.36 L614.51 18.14 L614.82 17.92 L615.14 17.72 L615.45 17.52 L615.76 17.32 L616.08 17.13 L616.39 16.95 L616.71 16.78 L617.02 16.61 L617.34 16.45 L617.65 16.29 L617.97 16.15 L618.28 16.01 L618.6 15.87 L618.91 15.74 L619.23 15.62 L619.54 15.51 L619.86 15.4 L620.17 15.3 L620.49 15.21 L620.8 15.12 L621.11 15.04 L621.43 14.97 L621.74 14.91 L622.06 14.85 L622.37 14.8 L622.69 14.75 L623 14.71 L623.32 14.68 L623.63 14.66 L623.95 14.64 L624.26 14.63 L624.58 14.63 L624.89 14.63 L625.21 14.65 L625.52 14.67 L625.83 14.69 L626.15 14.73 L626.46 14.77 L626.78 14.81 L627.09 14.87 L627.41 14.93 L627.72 15 L628.04 15.07 L628.35 15.16 L628.67 15.25 L628.98 15.34 L629.3 15.45 L629.61 15.56 L629.93 15.67 L630.24 15.79 L630.56 15.92 L630.87 16.06 L631.18 16.2 L631.5 16.35 L631.81 16.5 L632.13 16.66 L632.44 16.82 L632.76 16.99 L633.07 17.16 L633.39 17.34 L633.7 17.52 L634.02 17.71 L634.33 17.9 L634.65 18.1 L634.96 18.3 L635.28 18.51 L635.59 18.72 L635.91 18.94 L636.22 19.16 L636.53 19.38 L636.85 19.62 L637.16 19.85 L637.48 20.09 L637.79 20.34 L638.11 20.59 L638.42 20.84 L638.74 21.1 L639.05 21.36 L639.37 21.63 L639.68 21.91 L640 22.18 L640.31 22.47 L640.63 22.76 L640.94 23.05 L641.25 23.35 L641.57 23.65 L641.88 23.96 L642.2 24.28 L642.51 24.6 L642.83 24.93 L643.14 25.26 L643.46 25.6 L643.77 25.94 L644.09 26.29 L644.4 26.64 L644.72 27 L645.03 27.37 L645.35 27.74 L645.66 28.11 L645.98 28.49 L646.29 28.88 L646.6 29.26 L646.92 29.66 L647.23 30.05 L647.55 30.45 L647.86 30.86 L648.18 31.26 L648.49 31.67 L648.81 32.09 L649.12 32.5 L649.44 32.92 L649.75 33.34 L650.07 33.77 L650.38 34.19 L650.7 34.62 L651.01 35.06 L651.32 35.49 L651.64 35.93 L651.95 36.37 L652.27 36.81 L652.58 37.26 L652.9 37.71 L653.21 38.16 L653.53 38.61 L653.84 39.07 L654.16 39.53 L654.47 40 L654.79 40.46 L655.1 40.93 L655.42 41.41 L655.73 41.88 L656.05 42.36 L656.36 42.84 L656.67 43.33 L656.99 43.82 L657.3 44.31 L657.62 44.8 L657.93 45.3 L658.25 45.8 L658.56 46.3 L658.88 46.81 L659.19 47.31 L659.51 47.83 L659.82 48.34 L660.14 48.86 L660.45 49.38 L660.77 49.9 L661.08 50.42 L661.39 50.95 L661.71 51.48 L662.02 52.02 L662.34 52.55 L662.65 53.09 L662.97 53.63 L663.28 54.18 L663.6 54.73 L663.91 55.28 L664.23 55.83 L664.54 56.39 L664.86 56.95 L665.17 57.51 L665.49 58.08 L665.8 58.65 L666.12 59.22 L666.43 59.8 L666.74 60.38 L667.06 60.97 L667.37 61.55 L667.69 62.14 L668 62.74 L668.32 63.33 L668.63 63.93 L668.95 64.53 L669.26 65.14 L669.58 65.74 L669.89 66.35 L670.21 66.96 L670.52 67.57 L670.84 68.18 L671.15 68.79 L671.47 69.4 L671.78 70.01 L672.09 70.62 L672.41 71.24 L672.72 71.85 L673.04 72.46 L673.35 73.07 L673.67 73.69 L673.98 74.3 L674.3 74.91 L674.61 75.52 L674.93 76.14 L675.24 76.75 L675.56 77.37 L675.87 77.98 L676.19 78.59 L676.5 79.21 L676.81 79.82 L677.13 80.44 L677.44 81.06 L677.76 81.67 L678.07 82.29 L678.39 82.91 L678.7 83.53 L679.02 84.14 L679.33 84.76 L679.65 85.38 L679.96 86.01 L680.28 86.63 L680.59 87.25 L680.91 87.87 L681.22 88.5 L681.54 89.12 L681.85 89.75 L682.16 90.37 L682.48 91 L682.79 91.63 L683.11 92.25 L683.42 92.88 L683.74 93.51 L684.05 94.15 L684.37 94.78 L684.68 95.41 L685 96.04 L685.31 96.68 L685.63 97.31 L685.94 97.95 L686.26 98.59 L686.57 99.23 L686.88 99.86 L687.2 100.5 L687.51 101.14 L687.83 101.79 L688.14 102.43 L688.46 103.07 L688.77 103.71 L689.09 104.35 L689.4 104.99 L689.72 105.64 L690.03 106.28 L690.35 106.92 L690.66 107.56 L690.98 108.2 L691.29 108.85 L691.61 109.49 L691.92 110.13 L692.23 110.77 L692.55 111.42 L692.86 112.06 L693.18 112.7 L693.49 113.34 L693.81 113.98 L694.12 114.63 L694.44 115.27 L694.75 115.91 L695.07 116.55 L695.38 117.19 L695.7 117.83 L696.01 118.47 L696.33 119.12 L696.64 119.76 L696.96 120.4 L697.27 121.04 L697.58 121.68 L697.9 122.33 L698.21 122.97 L698.53 123.61 L698.84 124.26 L699.16 124.9 L699.47 125.55 L699.79 126.19 L700.1 126.83 L700.42 127.47 L700.73 128.12 L701.05 128.76 L701.36 129.39 L701.68 130.03 L701.99 130.67 L702.3 131.3 L702.62 131.93 L702.93 132.56 L703.25 133.19 L703.56 133.82 L703.88 134.44 L704.19 135.06 L704.51 135.67 L704.82 136.28 L705.14 136.89 L705.45 137.5 L705.77 138.1 L706.08 138.7 L706.4 139.29 L706.71 139.88 L707.03 140.46 L707.34 141.04 L707.65 141.61 L707.97 142.18 L708.28 142.75 L708.6 143.31 L708.91 143.86 L709.23 144.41 L709.54 144.95 L709.86 145.49 L710.17 146.02 L710.49 146.55 L710.8 147.08 L711.12 147.6 L711.43 148.11 L711.75 148.62 L712.06 149.13 L712.37 149.63 L712.69 150.12 L713 150.61 L713.32 151.1 L713.63 151.58 L713.95 152.06 L714.26 152.53 L714.58 152.99 L714.89 153.46 L715.21 153.91 L715.52 154.37 L715.84 154.82 L716.15 155.26 L716.47 155.7 L716.78 156.13 L717.1 156.56 L717.41 156.99 L717.72 157.41 L718.04 157.82 L718.35 158.24 L718.67 158.64 L718.98 159.04 L719.3 159.44 L719.61 159.83 L719.93 160.22 L720.24 160.6 L720.56 160.98 L720.87 161.36 L721.19 161.72 L721.5 162.09 L721.82 162.45 L722.13 162.8 L722.45 163.15 L722.76 163.5 L723.07 163.84 L723.39 164.17 L723.7 164.51 L724.02 164.83 L724.33 165.15 L724.65 165.47 L724.96 165.78 L725.28 166.08 L725.59 166.38 L725.91 166.68 L726.22 166.97 L726.54 167.25 L726.85 167.53 L727.17 167.81 L727.48 168.07 L727.79 168.34 L728.11 168.59 L728.42 168.85 L728.74 169.09 L729.05 169.33 L729.37 169.56 L729.68 169.79 L730 170.01 L730.31 170.23 L730.63 170.44 L730.94 170.64 L731.26 170.84 L731.57 171.03 L731.89 171.22 L732.2 171.4 L732.52 171.57 L732.83 171.74 L733.14 171.91 L733.46 172.06 L733.77 172.22 L734.09 172.36 L734.4 172.51 L734.72 172.64 L735.03 172.77 L735.35 172.9 L735.66 173.02 L735.98 173.14 L736.29 173.25 L736.61 173.36 L736.92 173.46 L737.24 173.56 L737.55 173.65 L737.86 173.74 L738.18 173.83 L738.49 173.91 L738.81 173.98 L739.12 174.06 L739.44 174.13 L739.75 174.2 L740.07 174.26 L740.38 174.33 L740.7 174.39 L741.01 174.45 L741.33 174.5 L741.64 174.56 L741.96 174.62 L742.27 174.67 L742.59 174.7 L742.9 174.7" stroke="#5fac5a" stroke-width="1.65" fill="none" stroke-linejoin="round" clip-path="url(#clipb)"/>
<path d="M76.8 366.6 L107 366.6 M107 366.6 L107.43 363.99 L107.87 362.87 L108.3 361.75 L108.74 360.61 L109.17 359.47 L109.61 358.31 L110.04 357.15 L110.48 355.99 L110.91 354.82 L111.34 353.65 L111.78 352.48 L112.21 351.31 L112.65 350.13 L113.08 348.96 L113.52 347.79 L113.95 346.62 L114.39 345.45 L114.82 344.28 L115.25 343.12 L115.69 341.96 L116.12 340.8 L116.56 339.65 L116.99 338.51 L117.43 337.37 L117.86 336.23 L118.3 335.1 L118.73 333.98 L119.17 332.86 L119.6 331.74 L120.03 330.64 L120.47 329.53 L120.9 328.44 L121.34 327.35 L121.77 326.27 L122.21 325.19 L122.64 324.12 L123.08 323.05 L123.51 321.99 L123.94 320.94 L124.38 319.89 L124.81 318.85 L125.25 317.81 L125.68 316.78 L126.12 315.76 L126.55 314.74 L126.99 313.72 L127.42 312.71 L127.85 311.71 L128.29 310.71 L128.72 309.72 L129.16 308.73 L129.59 307.74 L130.03 306.76 L130.46 305.79 L130.9 304.82 L131.33 303.85 L131.76 302.89 L132.2 301.93 L132.63 300.98 L133.07 300.03 L133.5 299.08 L133.94 298.14 L134.37 297.21 L134.81 296.27 L135.24 295.34 L135.67 294.42 L136.11 293.5 L136.54 292.58 L136.98 291.67 L137.41 290.76 L137.85 289.85 L138.28 288.95 L138.72 288.05 L139.15 287.15 L139.59 286.26 L140.02 285.37 L140.45 284.49 L140.89 283.61 L141.32 282.73 L141.76 281.86 L142.19 280.99 L142.63 280.13 L143.06 279.27 L143.5 278.41 L143.93 277.56 L144.36 276.71 L144.8 275.86 L145.23 275.02 L145.67 274.19 L146.1 273.36 L146.54 272.53 L146.97 271.71 L147.41 270.89 L147.84 270.07 L148.27 269.27 L148.71 268.46 L149.14 267.66 L149.58 266.87 L150.01 266.08 L150.45 265.29 L150.88 264.51 L151.32 263.73 L151.75 262.96 L152.18 262.2 L152.62 261.44 L153.05 260.68 L153.49 259.93 L153.92 259.19 L154.36 258.45 L154.79 257.72 L155.23 256.99 L155.66 256.27 L156.09 255.55 L156.53 254.84 L156.96 254.13 L157.4 253.43 L157.83 252.74 L158.27 252.05 L158.7 251.37 L159.14 250.69 L159.57 250.02 L160.01 249.36 L160.44 248.7 L160.87 248.04 L161.31 247.4 L161.74 246.75 L162.18 246.12 L162.61 245.49 L163.05 244.86 L163.48 244.25 L163.92 243.63 L164.35 243.03 L164.78 242.43 L165.22 241.83 L165.65 241.24 L166.09 240.66 L166.52 240.08 L166.96 239.51 L167.39 238.95 L167.83 238.39 L168.26 237.83 L168.69 237.28 L169.13 236.74 L169.56 236.2 L170 235.67 L170.43 235.14 L170.87 234.62 L171.3 234.11 L171.74 233.6 L172.17 233.09 L172.6 232.59 L173.04 232.1 L173.47 231.61 L173.91 231.13 L174.34 230.65 L174.78 230.18 L175.21 229.71 L175.65 229.25 L176.08 228.79 L176.52 228.34 L176.95 227.89 L177.38 227.45 L177.82 227.01 L178.25 226.58 L178.69 226.15 L179.12 225.73 L179.56 225.31 L179.99 224.9 L180.43 224.49 L180.86 224.08 L181.29 223.68 L181.73 223.29 L182.16 222.9 L182.6 222.51 L183.03 222.13 L183.47 221.75 L183.9 221.38 L184.34 221.02 L184.77 220.65 L185.2 220.29 L185.64 219.94 L186.07 219.59 L186.51 219.24 L186.94 218.9 L187.38 218.57 L187.81 218.24 L188.25 217.91 L188.68 217.59 L189.11 217.27 L189.55 216.95 L189.98 216.64 L190.42 216.34 L190.85 216.04 L191.29 215.74 L191.72 215.45 L192.16 215.16 L192.59 214.88 L193.02 214.6 L193.46 214.33 L193.89 214.06 L194.33 213.8 L194.76 213.54 L195.2 213.28 L195.63 213.03 L196.07 212.79 L196.5 212.55 L196.94 212.31 L197.37 212.08 L197.8 211.86 L198.24 211.64 L198.67 211.42 L199.11 211.21 L199.54 211.01 L199.98 210.81 L200.41 210.61 L200.85 210.42 L201.28 210.23 L201.71 210.05 L202.15 209.88 L202.58 209.71 L203.02 209.55 L203.45 209.39 L203.89 209.24 L204.32 209.09 L204.76 208.95 L205.19 208.81 L205.62 208.68 L206.06 208.55 L206.49 208.44 L206.93 208.32 L207.36 208.21 L207.8 208.11 L208.23 208.01 L208.67 207.92 L209.1 207.84 L209.53 207.76 L209.97 207.69 L210.4 207.62 L210.84 207.56 L211.27 207.5 L211.71 207.45 L212.14 207.41 L212.58 207.37 L213.01 207.34 L213.44 207.31 L213.88 207.29 L214.31 207.28 L214.75 207.27 L215.18 207.27 L215.62 207.27 L216.05 207.28 L216.49 207.3 L216.92 207.32 L217.36 207.35 L217.79 207.38 L218.22 207.42 L218.66 207.47 L219.09 207.52 L219.53 207.58 L219.96 207.64 L220.4 207.71 L220.83 207.79 L221.27 207.87 L221.7 207.96 L222.13 208.05 L222.57 208.15 L223 208.25 L223.44 208.36 L223.87 208.48 L224.31 208.6 L224.74 208.73 L225.18 208.86 L225.61 209 L226.04 209.14 L226.48 209.29 L226.91 209.45 L227.35 209.61 L227.78 209.78 L228.22 209.95 L228.65 210.12 L229.09 210.3 L229.52 210.49 L229.95 210.68 L230.39 210.88 L230.82 211.08 L231.26 211.29 L231.69 211.5 L232.13 211.72 L232.56 211.94 L233 212.17 L233.43 212.4 L233.86 212.64 L234.3 212.88 L234.73 213.13 L235.17 213.38 L235.6 213.64 L236.04 213.9 L236.47 214.16 L236.91 214.43 L237.34 214.71 L237.78 214.99 L238.21 215.27 L238.64 215.56 L239.08 215.85 L239.51 216.15 L239.95 216.45 L240.38 216.76 L240.82 217.07 L241.25 217.39 L241.69 217.71 L242.12 218.03 L242.55 218.36 L242.99 218.7 L243.42 219.03 L243.86 219.38 L244.29 219.72 L244.73 220.07 L245.16 220.43 L245.6 220.79 L246.03 221.15 L246.46 221.52 L246.9 221.9 L247.33 222.28 L247.77 222.66 L248.2 223.05 L248.64 223.44 L249.07 223.84 L249.51 224.24 L249.94 224.64 L250.37 225.05 L250.81 225.47 L251.24 225.89 L251.68 226.31 L252.11 226.74 L252.55 227.18 L252.98 227.62 L253.42 228.06 L253.85 228.51 L254.28 228.97 L254.72 229.42 L255.15 229.89 L255.59 230.36 L256.02 230.83 L256.46 231.31 L256.89 231.8 L257.33 232.29 L257.76 232.78 L258.2 233.29 L258.63 233.79 L259.06 234.3 L259.5 234.82 L259.93 235.34 L260.37 235.87 L260.8 236.41 L261.24 236.95 L261.67 237.49 L262.11 238.04 L262.54 238.6 L262.97 239.16 L263.41 239.73 L263.84 240.3 L264.28 240.88 L264.71 241.47 L265.15 242.06 L265.58 242.65 L266.02 243.26 L266.45 243.87 L266.88 244.48 L267.32 245.1 L267.75 245.73 L268.19 246.36 L268.62 247 L269.06 247.64 L269.49 248.29 L269.93 248.95 L270.36 249.61 L270.79 250.28 L271.23 250.95 L271.66 251.63 L272.1 252.31 L272.53 253 L272.97 253.7 L273.4 254.4 L273.84 255.11 L274.27 255.82 L274.71 256.54 L275.14 257.27 L275.57 258 L276.01 258.73 L276.44 259.47 L276.88 260.22 L277.31 260.97 L277.75 261.73 L278.18 262.49 L278.62 263.26 L279.05 264.03 L279.48 264.81 L279.92 265.59 L280.35 266.38 L280.79 267.17 L281.22 267.96 L281.66 268.77 L282.09 269.57 L282.53 270.38 L282.96 271.2 L283.39 272.02 L283.83 272.84 L284.26 273.67 L284.7 274.51 L285.13 275.34 L285.57 276.19 L286 277.03 L286.44 277.88 L286.87 278.74 L287.3 279.59 L287.74 280.46 L288.17 281.32 L288.61 282.19 L289.04 283.07 L289.48 283.94 L289.91 284.83 L290.35 285.71 L290.78 286.6 L291.21 287.49 L291.65 288.39 L292.08 289.29 L292.52 290.19 L292.95 291.1 L293.39 292.01 L293.82 292.93 L294.26 293.85 L294.69 294.77 L295.13 295.7 L295.56 296.63 L295.99 297.56 L296.43 298.5 L296.86 299.44 L297.3 300.39 L297.73 301.34 L298.17 302.3 L298.6 303.26 L299.04 304.22 L299.47 305.19 L299.9 306.16 L300.34 307.14 L300.77 308.12 L301.21 309.1 L301.64 310.09 L302.08 311.09 L302.51 312.09 L302.95 313.1 L303.38 314.11 L303.81 315.13 L304.25 316.15 L304.68 317.17 L305.12 318.21 L305.55 319.25 L305.99 320.29 L306.42 321.34 L306.86 322.4 L307.29 323.46 L307.72 324.53 L308.16 325.6 L308.59 326.68 L309.03 327.76 L309.46 328.86 L309.9 329.95 L310.33 331.06 L310.77 332.17 L311.2 333.28 L311.63 334.4 L312.07 335.53 L312.5 336.66 L312.94 337.8 L313.37 338.94 L313.81 340.09 L314.24 341.24 L314.68 342.4 L315.11 343.56 L315.55 344.72 L315.98 345.89 L316.41 347.06 L316.85 348.23 L317.28 349.41 L317.72 350.58 L318.15 351.75 L318.59 352.93 L319.02 354.1 L319.46 355.27 L319.89 356.44 L320.32 357.6 L320.76 358.75 L321.19 359.9 L321.63 361.04 L322.06 362.18 L322.5 363.3 L322.93 364.41 L323.37 365.5 L323.8 366.6 M323.8 366.6 L353.2 366.6" stroke="#612a70" stroke-width="1.75" fill="none" stroke-linejoin="round" stroke-dasharray="3.6 3.1" clip-path="url(#clipc)"/>
<path d="M76.8 366.6 L101 366.6 M101 366.6 L101.46 364.89 L101.91 363.65 L102.37 362.42 L102.83 361.2 L103.29 359.99 L103.74 358.78 L104.2 357.58 L104.66 356.39 L105.12 355.21 L105.57 354.03 L106.03 352.86 L106.49 351.7 L106.95 350.54 L107.4 349.39 L107.86 348.24 L108.32 347.1 L108.77 345.96 L109.23 344.83 L109.69 343.7 L110.15 342.58 L110.6 341.46 L111.06 340.35 L111.52 339.24 L111.98 338.14 L112.43 337.04 L112.89 335.94 L113.35 334.85 L113.8 333.76 L114.26 332.67 L114.72 331.59 L115.18 330.51 L115.63 329.44 L116.09 328.37 L116.55 327.3 L117.01 326.24 L117.46 325.18 L117.92 324.12 L118.38 323.07 L118.84 322.02 L119.29 320.98 L119.75 319.93 L120.21 318.9 L120.66 317.86 L121.12 316.83 L121.58 315.8 L122.04 314.77 L122.49 313.75 L122.95 312.74 L123.41 311.72 L123.87 310.71 L124.32 309.7 L124.78 308.7 L125.24 307.7 L125.69 306.71 L126.15 305.71 L126.61 304.73 L127.07 303.74 L127.52 302.76 L127.98 301.79 L128.44 300.81 L128.9 299.85 L129.35 298.88 L129.81 297.92 L130.27 296.97 L130.73 296.01 L131.18 295.07 L131.64 294.12 L132.1 293.18 L132.55 292.25 L133.01 291.32 L133.47 290.39 L133.93 289.47 L134.38 288.56 L134.84 287.64 L135.3 286.74 L135.76 285.83 L136.21 284.94 L136.67 284.04 L137.13 283.16 L137.59 282.27 L138.04 281.39 L138.5 280.52 L138.96 279.65 L139.41 278.79 L139.87 277.93 L140.33 277.07 L140.79 276.22 L141.24 275.38 L141.7 274.54 L142.16 273.71 L142.62 272.88 L143.07 272.06 L143.53 271.24 L143.99 270.43 L144.44 269.62 L144.9 268.82 L145.36 268.02 L145.82 267.23 L146.27 266.44 L146.73 265.66 L147.19 264.89 L147.65 264.12 L148.1 263.35 L148.56 262.59 L149.02 261.84 L149.48 261.09 L149.93 260.35 L150.39 259.61 L150.85 258.87 L151.3 258.15 L151.76 257.43 L152.22 256.71 L152.68 256 L153.13 255.29 L153.59 254.59 L154.05 253.9 L154.51 253.21 L154.96 252.53 L155.42 251.85 L155.88 251.18 L156.34 250.51 L156.79 249.85 L157.25 249.19 L157.71 248.54 L158.16 247.89 L158.62 247.25 L159.08 246.62 L159.54 245.99 L159.99 245.37 L160.45 244.75 L160.91 244.13 L161.37 243.53 L161.82 242.92 L162.28 242.33 L162.74 241.73 L163.19 241.15 L163.65 240.57 L164.11 239.99 L164.57 239.42 L165.02 238.85 L165.48 238.29 L165.94 237.74 L166.4 237.19 L166.85 236.64 L167.31 236.1 L167.77 235.57 L168.23 235.04 L168.68 234.51 L169.14 234 L169.6 233.48 L170.05 232.97 L170.51 232.47 L170.97 231.97 L171.43 231.48 L171.88 230.99 L172.34 230.51 L172.8 230.03 L173.26 229.56 L173.71 229.09 L174.17 228.62 L174.63 228.17 L175.08 227.71 L175.54 227.27 L176 226.82 L176.46 226.39 L176.91 225.95 L177.37 225.53 L177.83 225.1 L178.29 224.69 L178.74 224.27 L179.2 223.87 L179.66 223.46 L180.12 223.07 L180.57 222.67 L181.03 222.29 L181.49 221.9 L181.94 221.53 L182.4 221.15 L182.86 220.79 L183.32 220.42 L183.77 220.07 L184.23 219.71 L184.69 219.37 L185.15 219.03 L185.6 218.69 L186.06 218.36 L186.52 218.03 L186.98 217.71 L187.43 217.39 L187.89 217.08 L188.35 216.77 L188.8 216.47 L189.26 216.17 L189.72 215.88 L190.18 215.59 L190.63 215.31 L191.09 215.03 L191.55 214.76 L192.01 214.49 L192.46 214.23 L192.92 213.97 L193.38 213.72 L193.83 213.47 L194.29 213.23 L194.75 212.99 L195.21 212.76 L195.66 212.54 L196.12 212.32 L196.58 212.1 L197.04 211.89 L197.49 211.68 L197.95 211.48 L198.41 211.29 L198.87 211.1 L199.32 210.91 L199.78 210.73 L200.24 210.56 L200.69 210.39 L201.15 210.22 L201.61 210.06 L202.07 209.91 L202.52 209.76 L202.98 209.62 L203.44 209.48 L203.9 209.35 L204.35 209.22 L204.81 209.1 L205.27 208.98 L205.73 208.87 L206.18 208.76 L206.64 208.66 L207.1 208.57 L207.55 208.48 L208.01 208.39 L208.47 208.31 L208.93 208.24 L209.38 208.17 L209.84 208.1 L210.3 208.04 L210.76 207.99 L211.21 207.94 L211.67 207.9 L212.13 207.86 L212.58 207.83 L213.04 207.8 L213.5 207.78 L213.96 207.77 L214.41 207.75 L214.87 207.75 L215.33 207.75 L215.79 207.75 L216.24 207.77 L216.7 207.78 L217.16 207.8 L217.62 207.83 L218.07 207.86 L218.53 207.9 L218.99 207.94 L219.44 207.99 L219.9 208.04 L220.36 208.1 L220.82 208.17 L221.27 208.24 L221.73 208.31 L222.19 208.39 L222.65 208.48 L223.1 208.57 L223.56 208.66 L224.02 208.76 L224.47 208.87 L224.93 208.98 L225.39 209.1 L225.85 209.22 L226.3 209.35 L226.76 209.48 L227.22 209.62 L227.68 209.76 L228.13 209.91 L228.59 210.06 L229.05 210.22 L229.51 210.39 L229.96 210.56 L230.42 210.73 L230.88 210.91 L231.33 211.1 L231.79 211.29 L232.25 211.48 L232.71 211.68 L233.16 211.89 L233.62 212.1 L234.08 212.32 L234.54 212.54 L234.99 212.76 L235.45 212.99 L235.91 213.23 L236.37 213.47 L236.82 213.72 L237.28 213.97 L237.74 214.23 L238.19 214.49 L238.65 214.76 L239.11 215.03 L239.57 215.31 L240.02 215.59 L240.48 215.88 L240.94 216.17 L241.4 216.47 L241.85 216.77 L242.31 217.08 L242.77 217.39 L243.22 217.71 L243.68 218.03 L244.14 218.36 L244.6 218.69 L245.05 219.03 L245.51 219.37 L245.97 219.71 L246.43 220.07 L246.88 220.42 L247.34 220.79 L247.8 221.15 L248.26 221.53 L248.71 221.9 L249.17 222.29 L249.63 222.67 L250.08 223.07 L250.54 223.46 L251 223.87 L251.46 224.27 L251.91 224.69 L252.37 225.1 L252.83 225.53 L253.29 225.95 L253.74 226.39 L254.2 226.82 L254.66 227.27 L255.12 227.71 L255.57 228.17 L256.03 228.62 L256.49 229.09 L256.94 229.56 L257.4 230.03 L257.86 230.51 L258.32 230.99 L258.77 231.48 L259.23 231.97 L259.69 232.47 L260.15 232.97 L260.6 233.48 L261.06 234 L261.52 234.51 L261.97 235.04 L262.43 235.57 L262.89 236.1 L263.35 236.64 L263.8 237.19 L264.26 237.74 L264.72 238.29 L265.18 238.85 L265.63 239.42 L266.09 239.99 L266.55 240.57 L267.01 241.15 L267.46 241.73 L267.92 242.33 L268.38 242.92 L268.83 243.53 L269.29 244.13 L269.75 244.75 L270.21 245.37 L270.66 245.99 L271.12 246.62 L271.58 247.25 L272.04 247.89 L272.49 248.54 L272.95 249.19 L273.41 249.85 L273.86 250.51 L274.32 251.18 L274.78 251.85 L275.24 252.53 L275.69 253.21 L276.15 253.9 L276.61 254.59 L277.07 255.29 L277.52 256 L277.98 256.71 L278.44 257.43 L278.9 258.15 L279.35 258.87 L279.81 259.61 L280.27 260.35 L280.72 261.09 L281.18 261.84 L281.64 262.59 L282.1 263.35 L282.55 264.12 L283.01 264.89 L283.47 265.66 L283.93 266.44 L284.38 267.23 L284.84 268.02 L285.3 268.82 L285.76 269.62 L286.21 270.43 L286.67 271.24 L287.13 272.06 L287.58 272.88 L288.04 273.71 L288.5 274.54 L288.96 275.38 L289.41 276.22 L289.87 277.07 L290.33 277.93 L290.79 278.79 L291.24 279.65 L291.7 280.52 L292.16 281.39 L292.61 282.27 L293.07 283.16 L293.53 284.04 L293.99 284.94 L294.44 285.83 L294.9 286.74 L295.36 287.64 L295.82 288.56 L296.27 289.47 L296.73 290.39 L297.19 291.32 L297.65 292.25 L298.1 293.18 L298.56 294.12 L299.02 295.07 L299.47 296.01 L299.93 296.97 L300.39 297.92 L300.85 298.88 L301.3 299.85 L301.76 300.81 L302.22 301.79 L302.68 302.76 L303.13 303.74 L303.59 304.73 L304.05 305.71 L304.51 306.71 L304.96 307.7 L305.42 308.7 L305.88 309.7 L306.33 310.71 L306.79 311.72 L307.25 312.74 L307.71 313.75 L308.16 314.77 L308.62 315.8 L309.08 316.83 L309.54 317.86 L309.99 318.9 L310.45 319.93 L310.91 320.98 L311.36 322.02 L311.82 323.07 L312.28 324.12 L312.74 325.18 L313.19 326.24 L313.65 327.3 L314.11 328.37 L314.57 329.44 L315.02 330.51 L315.48 331.59 L315.94 332.67 L316.4 333.76 L316.85 334.85 L317.31 335.94 L317.77 337.04 L318.22 338.14 L318.68 339.24 L319.14 340.35 L319.6 341.46 L320.05 342.58 L320.51 343.7 L320.97 344.83 L321.43 345.96 L321.88 347.1 L322.34 348.24 L322.8 349.39 L323.25 350.54 L323.71 351.7 L324.17 352.86 L324.63 354.03 L325.08 355.21 L325.54 356.39 L326 357.58 L326.46 358.78 L326.91 359.99 L327.37 361.2 L327.83 362.42 L328.29 363.65 L328.74 364.89 L329.2 366.6 M329.2 366.6 L353.2 366.6" stroke="#cc4440" stroke-width="1.75" fill="none" stroke-linejoin="round" stroke-dasharray="10 6.8" clip-path="url(#clipc)"/>
<path d="M76.6 365.73 L77 365.85 L77.39 365.94 L77.79 366 L78.18 366.02 L78.58 366.01 L78.97 365.97 L79.37 365.9 L79.77 365.8 L80.16 365.67 L80.56 365.51 L80.95 365.33 L81.35 365.13 L81.74 364.89 L82.14 364.64 L82.54 364.36 L82.93 364.06 L83.33 363.74 L83.72 363.39 L84.12 363.03 L84.51 362.65 L84.91 362.25 L85.31 361.83 L85.7 361.39 L86.1 360.94 L86.49 360.47 L86.89 359.98 L87.28 359.48 L87.68 358.97 L88.08 358.44 L88.47 357.9 L88.87 357.34 L89.26 356.78 L89.66 356.2 L90.05 355.61 L90.45 355.01 L90.85 354.4 L91.24 353.78 L91.64 353.15 L92.03 352.51 L92.43 351.86 L92.82 351.21 L93.22 350.54 L93.62 349.87 L94.01 349.2 L94.41 348.51 L94.8 347.82 L95.2 347.13 L95.59 346.42 L95.99 345.72 L96.39 345 L96.78 344.29 L97.18 343.56 L97.57 342.84 L97.97 342.11 L98.36 341.38 L98.76 340.64 L99.16 339.9 L99.55 339.16 L99.95 338.41 L100.34 337.66 L100.74 336.91 L101.13 336.16 L101.53 335.4 L101.93 334.65 L102.32 333.89 L102.72 333.13 L103.11 332.37 L103.51 331.6 L103.9 330.84 L104.3 330.08 L104.7 329.31 L105.09 328.55 L105.49 327.78 L105.88 327.02 L106.28 326.25 L106.67 325.49 L107.07 324.72 L107.47 323.95 L107.86 323.19 L108.26 322.42 L108.65 321.66 L109.05 320.9 L109.44 320.13 L109.84 319.37 L110.24 318.61 L110.63 317.85 L111.03 317.09 L111.42 316.33 L111.82 315.57 L112.21 314.81 L112.61 314.06 L113.01 313.3 L113.4 312.55 L113.8 311.8 L114.19 311.05 L114.59 310.3 L114.98 309.55 L115.38 308.8 L115.78 308.06 L116.17 307.32 L116.57 306.58 L116.96 305.84 L117.36 305.1 L117.75 304.36 L118.15 303.63 L118.55 302.9 L118.94 302.17 L119.34 301.44 L119.73 300.71 L120.13 299.99 L120.52 299.26 L120.92 298.54 L121.32 297.82 L121.71 297.11 L122.11 296.39 L122.5 295.68 L122.9 294.97 L123.29 294.26 L123.69 293.56 L124.08 292.85 L124.48 292.15 L124.88 291.45 L125.27 290.75 L125.67 290.06 L126.06 289.36 L126.46 288.67 L126.85 287.98 L127.25 287.3 L127.65 286.61 L128.04 285.93 L128.44 285.25 L128.83 284.58 L129.23 283.9 L129.62 283.23 L130.02 282.56 L130.42 281.89 L130.81 281.23 L131.21 280.56 L131.6 279.9 L132 279.24 L132.39 278.59 L132.79 277.94 L133.19 277.29 L133.58 276.64 L133.98 275.99 L134.37 275.35 L134.77 274.71 L135.16 274.07 L135.56 273.44 L135.96 272.81 L136.35 272.18 L136.75 271.55 L137.14 270.92 L137.54 270.3 L137.93 269.68 L138.33 269.07 L138.73 268.45 L139.12 267.84 L139.52 267.23 L139.91 266.63 L140.31 266.02 L140.7 265.42 L141.1 264.83 L141.5 264.23 L141.89 263.64 L142.29 263.05 L142.68 262.46 L143.08 261.88 L143.47 261.3 L143.87 260.72 L144.27 260.15 L144.66 259.57 L145.06 259 L145.45 258.44 L145.85 257.87 L146.24 257.31 L146.64 256.76 L147.04 256.2 L147.43 255.65 L147.83 255.1 L148.22 254.55 L148.62 254.01 L149.01 253.47 L149.41 252.93 L149.81 252.4 L150.2 251.87 L150.6 251.34 L150.99 250.81 L151.39 250.29 L151.78 249.77 L152.18 249.25 L152.58 248.74 L152.97 248.23 L153.37 247.72 L153.76 247.22 L154.16 246.72 L154.55 246.22 L154.95 245.72 L155.35 245.23 L155.74 244.74 L156.14 244.26 L156.53 243.77 L156.93 243.29 L157.32 242.82 L157.72 242.34 L158.12 241.87 L158.51 241.41 L158.91 240.94 L159.3 240.48 L159.7 240.02 L160.09 239.57 L160.49 239.11 L160.89 238.66 L161.28 238.22 L161.68 237.77 L162.07 237.34 L162.47 236.9 L162.86 236.46 L163.26 236.03 L163.66 235.61 L164.05 235.18 L164.45 234.76 L164.84 234.34 L165.24 233.93 L165.63 233.52 L166.03 233.11 L166.43 232.7 L166.82 232.3 L167.22 231.9 L167.61 231.5 L168.01 231.11 L168.4 230.72 L168.8 230.33 L169.2 229.95 L169.59 229.57 L169.99 229.19 L170.38 228.81 L170.78 228.44 L171.17 228.07 L171.57 227.71 L171.97 227.35 L172.36 226.99 L172.76 226.63 L173.15 226.28 L173.55 225.93 L173.94 225.58 L174.34 225.24 L174.74 224.9 L175.13 224.56 L175.53 224.22 L175.92 223.89 L176.32 223.56 L176.71 223.24 L177.11 222.92 L177.51 222.6 L177.9 222.28 L178.3 221.97 L178.69 221.66 L179.09 221.35 L179.48 221.05 L179.88 220.75 L180.28 220.45 L180.67 220.16 L181.07 219.87 L181.46 219.58 L181.86 219.3 L182.25 219.02 L182.65 218.74 L183.05 218.46 L183.44 218.19 L183.84 217.92 L184.23 217.66 L184.63 217.4 L185.02 217.14 L185.42 216.88 L185.82 216.63 L186.21 216.38 L186.61 216.14 L187 215.89 L187.4 215.65 L187.79 215.42 L188.19 215.18 L188.59 214.95 L188.98 214.73 L189.38 214.5 L189.77 214.28 L190.17 214.07 L190.56 213.85 L190.96 213.64 L191.36 213.44 L191.75 213.23 L192.15 213.03 L192.54 212.84 L192.94 212.64 L193.33 212.45 L193.73 212.26 L194.13 212.08 L194.52 211.9 L194.92 211.72 L195.31 211.55 L195.71 211.38 L196.1 211.21 L196.5 211.05 L196.9 210.89 L197.29 210.73 L197.69 210.58 L198.08 210.43 L198.48 210.28 L198.87 210.14 L199.27 210 L199.67 209.87 L200.06 209.73 L200.46 209.6 L200.85 209.48 L201.25 209.36 L201.64 209.24 L202.04 209.12 L202.44 209.01 L202.83 208.9 L203.23 208.8 L203.62 208.7 L204.02 208.6 L204.41 208.51 L204.81 208.42 L205.21 208.33 L205.6 208.25 L206 208.17 L206.39 208.09 L206.79 208.02 L207.18 207.95 L207.58 207.88 L207.98 207.82 L208.37 207.76 L208.77 207.71 L209.16 207.66 L209.56 207.61 L209.95 207.57 L210.35 207.53 L210.75 207.49 L211.14 207.46 L211.54 207.43 L211.93 207.4 L212.33 207.38 L212.72 207.36 L213.12 207.35 L213.52 207.34 L213.91 207.33 L214.31 207.32 L214.7 207.32 L215.1 207.33 L215.49 207.33 L215.89 207.34 L216.28 207.36 L216.68 207.37 L217.08 207.4 L217.47 207.42 L217.87 207.45 L218.26 207.48 L218.66 207.52 L219.05 207.55 L219.45 207.6 L219.85 207.64 L220.24 207.69 L220.64 207.75 L221.03 207.8 L221.43 207.86 L221.82 207.93 L222.22 208 L222.62 208.07 L223.01 208.14 L223.41 208.22 L223.8 208.3 L224.2 208.39 L224.59 208.48 L224.99 208.57 L225.39 208.66 L225.78 208.76 L226.18 208.86 L226.57 208.97 L226.97 209.08 L227.36 209.19 L227.76 209.31 L228.16 209.43 L228.55 209.55 L228.95 209.68 L229.34 209.81 L229.74 209.94 L230.13 210.08 L230.53 210.22 L230.93 210.36 L231.32 210.51 L231.72 210.66 L232.11 210.82 L232.51 210.97 L232.9 211.13 L233.3 211.3 L233.7 211.46 L234.09 211.63 L234.49 211.81 L234.88 211.98 L235.28 212.16 L235.67 212.35 L236.07 212.53 L236.47 212.72 L236.86 212.92 L237.26 213.11 L237.65 213.31 L238.05 213.52 L238.44 213.72 L238.84 213.93 L239.24 214.14 L239.63 214.36 L240.03 214.58 L240.42 214.8 L240.82 215.02 L241.21 215.25 L241.61 215.48 L242.01 215.72 L242.4 215.96 L242.8 216.2 L243.19 216.44 L243.59 216.69 L243.98 216.94 L244.38 217.19 L244.78 217.44 L245.17 217.7 L245.57 217.97 L245.96 218.23 L246.36 218.5 L246.75 218.77 L247.15 219.04 L247.55 219.32 L247.94 219.6 L248.34 219.89 L248.73 220.17 L249.13 220.46 L249.52 220.75 L249.92 221.05 L250.32 221.35 L250.71 221.65 L251.11 221.95 L251.5 222.26 L251.9 222.57 L252.29 222.88 L252.69 223.2 L253.09 223.52 L253.48 223.84 L253.88 224.17 L254.27 224.5 L254.67 224.83 L255.06 225.16 L255.46 225.5 L255.86 225.84 L256.25 226.18 L256.65 226.53 L257.04 226.88 L257.44 227.23 L257.83 227.58 L258.23 227.94 L258.63 228.3 L259.02 228.67 L259.42 229.03 L259.81 229.4 L260.21 229.78 L260.6 230.15 L261 230.53 L261.4 230.91 L261.79 231.3 L262.19 231.69 L262.58 232.08 L262.98 232.47 L263.37 232.87 L263.77 233.27 L264.17 233.67 L264.56 234.08 L264.96 234.48 L265.35 234.9 L265.75 235.31 L266.14 235.73 L266.54 236.15 L266.94 236.57 L267.33 237 L267.73 237.43 L268.12 237.86 L268.52 238.3 L268.91 238.74 L269.31 239.18 L269.71 239.62 L270.1 240.07 L270.5 240.52 L270.89 240.98 L271.29 241.43 L271.68 241.89 L272.08 242.36 L272.48 242.82 L272.87 243.29 L273.27 243.76 L273.66 244.24 L274.06 244.71 L274.45 245.19 L274.85 245.68 L275.25 246.17 L275.64 246.66 L276.04 247.15 L276.43 247.64 L276.83 248.14 L277.22 248.64 L277.62 249.15 L278.02 249.66 L278.41 250.17 L278.81 250.68 L279.2 251.2 L279.6 251.72 L279.99 252.24 L280.39 252.77 L280.79 253.29 L281.18 253.83 L281.58 254.36 L281.97 254.9 L282.37 255.44 L282.76 255.98 L283.16 256.53 L283.56 257.08 L283.95 257.63 L284.35 258.18 L284.74 258.74 L285.14 259.3 L285.53 259.87 L285.93 260.43 L286.33 261 L286.72 261.57 L287.12 262.15 L287.51 262.73 L287.91 263.31 L288.3 263.89 L288.7 264.48 L289.1 265.07 L289.49 265.66 L289.89 266.26 L290.28 266.85 L290.68 267.45 L291.07 268.06 L291.47 268.66 L291.87 269.27 L292.26 269.88 L292.66 270.5 L293.05 271.12 L293.45 271.74 L293.84 272.36 L294.24 272.98 L294.64 273.61 L295.03 274.24 L295.43 274.88 L295.82 275.51 L296.22 276.15 L296.61 276.79 L297.01 277.44 L297.41 278.08 L297.8 278.73 L298.2 279.39 L298.59 280.04 L298.99 280.7 L299.38 281.36 L299.78 282.02 L300.18 282.69 L300.57 283.35 L300.97 284.02 L301.36 284.7 L301.76 285.37 L302.15 286.05 L302.55 286.73 L302.95 287.41 L303.34 288.1 L303.74 288.79 L304.13 289.48 L304.53 290.17 L304.92 290.86 L305.32 291.56 L305.72 292.26 L306.11 292.96 L306.51 293.67 L306.9 294.38 L307.3 295.09 L307.69 295.8 L308.09 296.51 L308.48 297.23 L308.88 297.95 L309.28 298.67 L309.67 299.39 L310.07 300.12 L310.46 300.84 L310.86 301.57 L311.25 302.31 L311.65 303.04 L312.05 303.78 L312.44 304.51 L312.84 305.26 L313.23 306 L313.63 306.74 L314.02 307.49 L314.42 308.24 L314.82 308.99 L315.21 309.74 L315.61 310.49 L316 311.25 L316.4 312 L316.79 312.76 L317.19 313.52 L317.59 314.29 L317.98 315.05 L318.38 315.81 L318.77 316.58 L319.17 317.35 L319.56 318.12 L319.96 318.89 L320.36 319.66 L320.75 320.43 L321.15 321.2 L321.54 321.98 L321.94 322.75 L322.33 323.53 L322.73 324.3 L323.13 325.08 L323.52 325.86 L323.92 326.64 L324.31 327.41 L324.71 328.19 L325.1 328.97 L325.5 329.75 L325.9 330.52 L326.29 331.3 L326.69 332.08 L327.08 332.85 L327.48 333.63 L327.87 334.4 L328.27 335.17 L328.67 335.94 L329.06 336.71 L329.46 337.48 L329.85 338.25 L330.25 339.01 L330.64 339.77 L331.04 340.53 L331.44 341.29 L331.83 342.04 L332.23 342.79 L332.62 343.53 L333.02 344.28 L333.41 345.01 L333.81 345.75 L334.21 346.48 L334.6 347.2 L335 347.92 L335.39 348.63 L335.79 349.34 L336.18 350.04 L336.58 350.73 L336.98 351.42 L337.37 352.1 L337.77 352.77 L338.16 353.44 L338.56 354.09 L338.95 354.74 L339.35 355.37 L339.75 356 L340.14 356.62 L340.54 357.22 L340.93 357.82 L341.33 358.4 L341.72 358.97 L342.12 359.53 L342.52 360.07 L342.91 360.6 L343.31 361.12 L343.7 361.62 L344.1 362.1 L344.49 362.57 L344.89 363.02 L345.29 363.45 L345.68 363.87 L346.08 364.27 L346.47 364.64 L346.87 365 L347.26 365.33 L347.66 365.64 L348.06 365.93 L348.45 366.2 L348.85 366.44 L349.24 366.6 L349.64 366.6 L350.03 366.6 L350.43 366.6 L350.83 366.6 L351.22 366.6 L351.62 366.6 L352.01 366.6 L352.41 366.6 L352.8 366.6 L353.2 366.6" stroke="#5fac5a" stroke-width="1.65" fill="none" stroke-linejoin="round" clip-path="url(#clipc)"/>
<path d="M465.8 366.4 L466.26 366.4 L466.72 366.4 L467.19 366.4 L467.65 366.4 L468.11 366.4 L468.57 366.33 L469.03 366.22 L469.5 366.11 L469.96 365.99 L470.42 365.85 L470.88 365.71 L471.35 365.57 L471.81 365.41 L472.27 365.25 L472.73 365.08 L473.19 364.91 L473.66 364.72 L474.12 364.53 L474.58 364.33 L475.04 364.13 L475.5 363.92 L475.97 363.7 L476.43 363.48 L476.89 363.25 L477.35 363.02 L477.81 362.78 L478.28 362.53 L478.74 362.28 L479.2 362.02 L479.66 361.76 L480.13 361.49 L480.59 361.22 L481.05 360.94 L481.51 360.66 L481.97 360.37 L482.44 360.08 L482.9 359.78 L483.36 359.48 L483.82 359.17 L484.28 358.87 L484.75 358.55 L485.21 358.24 L485.67 357.91 L486.13 357.59 L486.59 357.26 L487.06 356.93 L487.52 356.6 L487.98 356.26 L488.44 355.92 L488.91 355.57 L489.37 355.23 L489.83 354.88 L490.29 354.53 L490.75 354.17 L491.22 353.81 L491.68 353.45 L492.14 353.09 L492.6 352.73 L493.06 352.36 L493.53 351.99 L493.99 351.62 L494.45 351.25 L494.91 350.88 L495.37 350.5 L495.84 350.13 L496.3 349.75 L496.76 349.37 L497.22 348.99 L497.69 348.61 L498.15 348.23 L498.61 347.84 L499.07 347.46 L499.53 347.07 L500 346.69 L500.46 346.3 L500.92 345.91 L501.38 345.52 L501.84 345.13 L502.31 344.75 L502.77 344.36 L503.23 343.97 L503.69 343.58 L504.15 343.19 L504.62 342.8 L505.08 342.41 L505.54 342.02 L506 341.63 L506.47 341.24 L506.93 340.85 L507.39 340.46 L507.85 340.07 L508.31 339.68 L508.78 339.29 L509.24 338.91 L509.7 338.52 L510.16 338.13 L510.62 337.75 L511.09 337.36 L511.55 336.98 L512.01 336.59 L512.47 336.21 L512.93 335.83 L513.4 335.45 L513.86 335.07 L514.32 334.69 L514.78 334.31 L515.25 333.94 L515.71 333.56 L516.17 333.19 L516.63 332.81 L517.09 332.44 L517.56 332.07 L518.02 331.7 L518.48 331.33 L518.94 330.97 L519.4 330.6 L519.87 330.24 L520.33 329.87 L520.79 329.51 L521.25 329.15 L521.71 328.8 L522.18 328.44 L522.64 328.08 L523.1 327.73 L523.56 327.38 L524.03 327.03 L524.49 326.68 L524.95 326.34 L525.41 325.99 L525.87 325.65 L526.34 325.31 L526.8 324.97 L527.26 324.63 L527.72 324.29 L528.18 323.96 L528.65 323.63 L529.11 323.3 L529.57 322.97 L530.03 322.64 L530.49 322.32 L530.96 321.99 L531.42 321.67 L531.88 321.35 L532.34 321.03 L532.81 320.72 L533.27 320.41 L533.73 320.09 L534.19 319.78 L534.65 319.48 L535.12 319.17 L535.58 318.87 L536.04 318.57 L536.5 318.27 L536.96 317.97 L537.43 317.67 L537.89 317.38 L538.35 317.09 L538.81 316.8 L539.27 316.51 L539.74 316.23 L540.2 315.94 L540.66 315.66 L541.12 315.38 L541.58 315.11 L542.05 314.83 L542.51 314.56 L542.97 314.29 L543.43 314.02 L543.9 313.75 L544.36 313.49 L544.82 313.22 L545.28 312.96 L545.74 312.7 L546.21 312.45 L546.67 312.19 L547.13 311.94 L547.59 311.69 L548.05 311.44 L548.52 311.2 L548.98 310.95 L549.44 310.71 L549.9 310.47 L550.36 310.23 L550.83 310 L551.29 309.76 L551.75 309.53 L552.21 309.3 L552.68 309.07 L553.14 308.85 L553.6 308.63 L554.06 308.41 L554.52 308.19 L554.99 307.97 L555.45 307.76 L555.91 307.54 L556.37 307.33 L556.83 307.12 L557.3 306.92 L557.76 306.71 L558.22 306.51 L558.68 306.31 L559.14 306.11 L559.61 305.92 L560.07 305.72 L560.53 305.53 L560.99 305.34 L561.46 305.16 L561.92 304.97 L562.38 304.79 L562.84 304.61 L563.3 304.43 L563.77 304.25 L564.23 304.08 L564.69 303.9 L565.15 303.73 L565.61 303.56 L566.08 303.4 L566.54 303.23 L567 303.07 L567.46 302.91 L567.92 302.76 L568.39 302.6 L568.85 302.45 L569.31 302.29 L569.77 302.15 L570.24 302 L570.7 301.85 L571.16 301.71 L571.62 301.57 L572.08 301.43 L572.55 301.3 L573.01 301.16 L573.47 301.03 L573.93 300.9 L574.39 300.77 L574.86 300.65 L575.32 300.52 L575.78 300.4 L576.24 300.28 L576.7 300.17 L577.17 300.05 L577.63 299.94 L578.09 299.83 L578.55 299.72 L579.02 299.61 L579.48 299.51 L579.94 299.41 L580.4 299.31 L580.86 299.21 L581.33 299.12 L581.79 299.02 L582.25 298.93 L582.71 298.84 L583.17 298.76 L583.64 298.67 L584.1 298.59 L584.56 298.51 L585.02 298.43 L585.48 298.36 L585.95 298.28 L586.41 298.21 L586.87 298.14 L587.33 298.08 L587.8 298.01 L588.26 297.95 L588.72 297.89 L589.18 297.83 L589.64 297.78 L590.11 297.73 L590.57 297.67 L591.03 297.63 L591.49 297.58 L591.95 297.53 L592.42 297.49 L592.88 297.45 L593.34 297.41 L593.8 297.38 L594.26 297.35 L594.73 297.31 L595.19 297.29 L595.65 297.26 L596.11 297.23 L596.58 297.21 L597.04 297.19 L597.5 297.17 L597.96 297.16 L598.42 297.15 L598.89 297.13 L599.35 297.13 L599.81 297.12 L600.27 297.11 L600.73 297.11 L601.2 297.11 L601.66 297.11 L602.12 297.12 L602.58 297.13 L603.04 297.13 L603.51 297.14 L603.97 297.16 L604.43 297.17 L604.89 297.19 L605.36 297.21 L605.82 297.23 L606.28 297.26 L606.74 297.28 L607.2 297.31 L607.67 297.34 L608.13 297.38 L608.59 297.41 L609.05 297.45 L609.51 297.49 L609.98 297.53 L610.44 297.57 L610.9 297.62 L611.36 297.67 L611.82 297.72 L612.29 297.77 L612.75 297.83 L613.21 297.88 L613.67 297.94 L614.14 298 L614.6 298.07 L615.06 298.13 L615.52 298.2 L615.98 298.27 L616.45 298.34 L616.91 298.41 L617.37 298.49 L617.83 298.57 L618.29 298.65 L618.76 298.73 L619.22 298.81 L619.68 298.9 L620.14 298.99 L620.6 299.08 L621.07 299.17 L621.53 299.27 L621.99 299.36 L622.45 299.46 L622.92 299.56 L623.38 299.67 L623.84 299.77 L624.3 299.88 L624.76 299.99 L625.23 300.1 L625.69 300.21 L626.15 300.32 L626.61 300.44 L627.07 300.56 L627.54 300.68 L628 300.8 L628.46 300.93 L628.92 301.06 L629.38 301.18 L629.85 301.32 L630.31 301.45 L630.77 301.58 L631.23 301.72 L631.7 301.86 L632.16 302 L632.62 302.14 L633.08 302.28 L633.54 302.43 L634.01 302.58 L634.47 302.73 L634.93 302.88 L635.39 303.03 L635.85 303.19 L636.32 303.35 L636.78 303.51 L637.24 303.67 L637.7 303.83 L638.16 304 L638.63 304.16 L639.09 304.33 L639.55 304.5 L640.01 304.68 L640.48 304.85 L640.94 305.03 L641.4 305.2 L641.86 305.38 L642.32 305.57 L642.79 305.75 L643.25 305.94 L643.71 306.12 L644.17 306.31 L644.63 306.5 L645.1 306.7 L645.56 306.89 L646.02 307.09 L646.48 307.28 L646.94 307.48 L647.41 307.69 L647.87 307.89 L648.33 308.1 L648.79 308.3 L649.26 308.51 L649.72 308.72 L650.18 308.93 L650.64 309.15 L651.1 309.37 L651.57 309.58 L652.03 309.8 L652.49 310.02 L652.95 310.25 L653.41 310.47 L653.88 310.7 L654.34 310.93 L654.8 311.16 L655.26 311.39 L655.72 311.62 L656.19 311.86 L656.65 312.1 L657.11 312.34 L657.57 312.58 L658.04 312.82 L658.5 313.06 L658.96 313.31 L659.42 313.56 L659.88 313.81 L660.35 314.06 L660.81 314.31 L661.27 314.57 L661.73 314.83 L662.19 315.08 L662.66 315.34 L663.12 315.61 L663.58 315.87 L664.04 316.14 L664.5 316.4 L664.97 316.67 L665.43 316.94 L665.89 317.22 L666.35 317.49 L666.82 317.77 L667.28 318.04 L667.74 318.32 L668.2 318.61 L668.66 318.89 L669.13 319.17 L669.59 319.46 L670.05 319.75 L670.51 320.04 L670.97 320.33 L671.44 320.62 L671.9 320.92 L672.36 321.22 L672.82 321.51 L673.28 321.81 L673.75 322.12 L674.21 322.42 L674.67 322.72 L675.13 323.03 L675.59 323.34 L676.06 323.65 L676.52 323.96 L676.98 324.28 L677.44 324.59 L677.91 324.91 L678.37 325.23 L678.83 325.55 L679.29 325.87 L679.75 326.19 L680.22 326.51 L680.68 326.84 L681.14 327.17 L681.6 327.5 L682.06 327.83 L682.53 328.16 L682.99 328.49 L683.45 328.83 L683.91 329.17 L684.37 329.5 L684.84 329.84 L685.3 330.19 L685.76 330.53 L686.22 330.87 L686.69 331.22 L687.15 331.56 L687.61 331.91 L688.07 332.26 L688.53 332.61 L689 332.96 L689.46 333.31 L689.92 333.67 L690.38 334.02 L690.84 334.38 L691.31 334.73 L691.77 335.09 L692.23 335.45 L692.69 335.81 L693.15 336.17 L693.62 336.54 L694.08 336.9 L694.54 337.26 L695 337.63 L695.47 337.99 L695.93 338.36 L696.39 338.73 L696.85 339.09 L697.31 339.46 L697.78 339.83 L698.24 340.2 L698.7 340.57 L699.16 340.94 L699.62 341.31 L700.09 341.68 L700.55 342.05 L701.01 342.42 L701.47 342.8 L701.93 343.17 L702.4 343.54 L702.86 343.91 L703.32 344.28 L703.78 344.66 L704.25 345.03 L704.71 345.4 L705.17 345.77 L705.63 346.14 L706.09 346.51 L706.56 346.88 L707.02 347.25 L707.48 347.62 L707.94 347.99 L708.4 348.36 L708.87 348.72 L709.33 349.09 L709.79 349.46 L710.25 349.82 L710.71 350.18 L711.18 350.55 L711.64 350.91 L712.1 351.27 L712.56 351.62 L713.03 351.98 L713.49 352.34 L713.95 352.69 L714.41 353.04 L714.87 353.39 L715.34 353.74 L715.8 354.08 L716.26 354.43 L716.72 354.77 L717.18 355.11 L717.65 355.45 L718.11 355.78 L718.57 356.11 L719.03 356.44 L719.49 356.77 L719.96 357.09 L720.42 357.41 L720.88 357.73 L721.34 358.04 L721.81 358.35 L722.27 358.66 L722.73 358.97 L723.19 359.27 L723.65 359.56 L724.12 359.86 L724.58 360.14 L725.04 360.43 L725.5 360.71 L725.96 360.99 L726.43 361.26 L726.89 361.53 L727.35 361.79 L727.81 362.05 L728.27 362.3 L728.74 362.55 L729.2 362.79 L729.66 363.03 L730.12 363.26 L730.59 363.49 L731.05 363.71 L731.51 363.92 L731.97 364.13 L732.43 364.34 L732.9 364.53 L733.36 364.73 L733.82 364.91 L734.28 365.09 L734.74 365.26 L735.21 365.42 L735.67 365.58 L736.13 365.73 L736.59 365.88 L737.05 366.01 L737.52 366.14 L737.98 366.26 L738.44 366.38 L738.9 366.4 L739.37 366.4 L739.83 366.4 L740.29 366.4 L740.75 366.4 L741.21 366.4 L741.68 366.4 L742.14 366.4 L742.6 366.4" stroke="#612a70" stroke-width="1.75" fill="none" stroke-linejoin="round" stroke-dasharray="3.6 3.1" clip-path="url(#clipd)"/>
<path d="M465.8 366.4 L466.26 366.4 L466.72 366.31 L467.19 366.09 L467.65 365.86 L468.11 365.62 L468.57 365.38 L469.03 365.12 L469.5 364.86 L469.96 364.59 L470.42 364.31 L470.88 364.03 L471.35 363.73 L471.81 363.43 L472.27 363.13 L472.73 362.81 L473.19 362.49 L473.66 362.16 L474.12 361.82 L474.58 361.47 L475.04 361.12 L475.5 360.76 L475.97 360.39 L476.43 360.02 L476.89 359.64 L477.35 359.25 L477.81 358.86 L478.28 358.46 L478.74 358.05 L479.2 357.63 L479.66 357.21 L480.13 356.79 L480.59 356.35 L481.05 355.91 L481.51 355.47 L481.97 355.01 L482.44 354.56 L482.9 354.09 L483.36 353.62 L483.82 353.15 L484.28 352.67 L484.75 352.18 L485.21 351.69 L485.67 351.19 L486.13 350.69 L486.59 350.18 L487.06 349.66 L487.52 349.15 L487.98 348.62 L488.44 348.1 L488.91 347.56 L489.37 347.03 L489.83 346.48 L490.29 345.94 L490.75 345.39 L491.22 344.83 L491.68 344.28 L492.14 343.71 L492.6 343.15 L493.06 342.58 L493.53 342 L493.99 341.43 L494.45 340.85 L494.91 340.26 L495.37 339.68 L495.84 339.09 L496.3 338.49 L496.76 337.9 L497.22 337.3 L497.69 336.7 L498.15 336.09 L498.61 335.49 L499.07 334.88 L499.53 334.27 L500 333.66 L500.46 333.04 L500.92 332.43 L501.38 331.81 L501.84 331.19 L502.31 330.57 L502.77 329.95 L503.23 329.32 L503.69 328.7 L504.15 328.07 L504.62 327.44 L505.08 326.82 L505.54 326.19 L506 325.56 L506.47 324.93 L506.93 324.3 L507.39 323.67 L507.85 323.04 L508.31 322.41 L508.78 321.78 L509.24 321.15 L509.7 320.52 L510.16 319.89 L510.62 319.26 L511.09 318.63 L511.55 318.01 L512.01 317.38 L512.47 316.75 L512.93 316.13 L513.4 315.5 L513.86 314.88 L514.32 314.26 L514.78 313.64 L515.25 313.02 L515.71 312.4 L516.17 311.79 L516.63 311.18 L517.09 310.56 L517.56 309.96 L518.02 309.35 L518.48 308.74 L518.94 308.14 L519.4 307.54 L519.87 306.94 L520.33 306.34 L520.79 305.75 L521.25 305.16 L521.71 304.57 L522.18 303.99 L522.64 303.41 L523.1 302.83 L523.56 302.25 L524.03 301.68 L524.49 301.11 L524.95 300.54 L525.41 299.98 L525.87 299.42 L526.34 298.86 L526.8 298.31 L527.26 297.76 L527.72 297.22 L528.18 296.68 L528.65 296.14 L529.11 295.6 L529.57 295.08 L530.03 294.55 L530.49 294.03 L530.96 293.51 L531.42 293 L531.88 292.49 L532.34 291.98 L532.81 291.48 L533.27 290.98 L533.73 290.49 L534.19 290 L534.65 289.52 L535.12 289.04 L535.58 288.57 L536.04 288.1 L536.5 287.63 L536.96 287.17 L537.43 286.72 L537.89 286.27 L538.35 285.82 L538.81 285.38 L539.27 284.94 L539.74 284.51 L540.2 284.08 L540.66 283.66 L541.12 283.24 L541.58 282.83 L542.05 282.42 L542.51 282.02 L542.97 281.62 L543.43 281.23 L543.9 280.84 L544.36 280.45 L544.82 280.07 L545.28 279.7 L545.74 279.33 L546.21 278.97 L546.67 278.61 L547.13 278.26 L547.59 277.91 L548.05 277.56 L548.52 277.22 L548.98 276.89 L549.44 276.56 L549.9 276.24 L550.36 275.92 L550.83 275.6 L551.29 275.29 L551.75 274.99 L552.21 274.69 L552.68 274.39 L553.14 274.1 L553.6 273.81 L554.06 273.53 L554.52 273.26 L554.99 272.98 L555.45 272.72 L555.91 272.45 L556.37 272.2 L556.83 271.94 L557.3 271.69 L557.76 271.45 L558.22 271.21 L558.68 270.97 L559.14 270.74 L559.61 270.51 L560.07 270.29 L560.53 270.07 L560.99 269.86 L561.46 269.65 L561.92 269.44 L562.38 269.24 L562.84 269.05 L563.3 268.85 L563.77 268.66 L564.23 268.48 L564.69 268.3 L565.15 268.12 L565.61 267.95 L566.08 267.78 L566.54 267.61 L567 267.45 L567.46 267.29 L567.92 267.13 L568.39 266.98 L568.85 266.83 L569.31 266.69 L569.77 266.55 L570.24 266.41 L570.7 266.28 L571.16 266.15 L571.62 266.02 L572.08 265.89 L572.55 265.77 L573.01 265.65 L573.47 265.54 L573.93 265.43 L574.39 265.32 L574.86 265.21 L575.32 265.11 L575.78 265 L576.24 264.91 L576.7 264.81 L577.17 264.72 L577.63 264.63 L578.09 264.54 L578.55 264.45 L579.02 264.37 L579.48 264.29 L579.94 264.21 L580.4 264.14 L580.86 264.06 L581.33 263.99 L581.79 263.92 L582.25 263.85 L582.71 263.79 L583.17 263.73 L583.64 263.67 L584.1 263.61 L584.56 263.55 L585.02 263.49 L585.48 263.44 L585.95 263.39 L586.41 263.34 L586.87 263.29 L587.33 263.24 L587.8 263.2 L588.26 263.15 L588.72 263.11 L589.18 263.07 L589.64 263.03 L590.11 262.99 L590.57 262.96 L591.03 262.92 L591.49 262.89 L591.95 262.86 L592.42 262.83 L592.88 262.8 L593.34 262.77 L593.8 262.74 L594.26 262.72 L594.73 262.69 L595.19 262.67 L595.65 262.64 L596.11 262.62 L596.58 262.6 L597.04 262.58 L597.5 262.56 L597.96 262.55 L598.42 262.53 L598.89 262.51 L599.35 262.5 L599.81 262.49 L600.27 262.47 L600.73 262.46 L601.2 262.45 L601.66 262.44 L602.12 262.43 L602.58 262.42 L603.04 262.42 L603.51 262.41 L603.97 262.4 L604.43 262.4 L604.89 262.39 L605.36 262.39 L605.82 262.39 L606.28 262.39 L606.74 262.39 L607.2 262.39 L607.67 262.39 L608.13 262.39 L608.59 262.4 L609.05 262.4 L609.51 262.41 L609.98 262.41 L610.44 262.42 L610.9 262.43 L611.36 262.44 L611.82 262.45 L612.29 262.46 L612.75 262.47 L613.21 262.48 L613.67 262.5 L614.14 262.51 L614.6 262.53 L615.06 262.55 L615.52 262.56 L615.98 262.58 L616.45 262.61 L616.91 262.63 L617.37 262.65 L617.83 262.68 L618.29 262.7 L618.76 262.73 L619.22 262.76 L619.68 262.79 L620.14 262.82 L620.6 262.86 L621.07 262.89 L621.53 262.93 L621.99 262.97 L622.45 263.01 L622.92 263.05 L623.38 263.09 L623.84 263.14 L624.3 263.19 L624.76 263.23 L625.23 263.29 L625.69 263.34 L626.15 263.39 L626.61 263.45 L627.07 263.51 L627.54 263.57 L628 263.63 L628.46 263.7 L628.92 263.77 L629.38 263.84 L629.85 263.91 L630.31 263.98 L630.77 264.06 L631.23 264.14 L631.7 264.22 L632.16 264.31 L632.62 264.4 L633.08 264.49 L633.54 264.58 L634.01 264.68 L634.47 264.78 L634.93 264.88 L635.39 264.98 L635.85 265.09 L636.32 265.2 L636.78 265.31 L637.24 265.43 L637.7 265.55 L638.16 265.68 L638.63 265.8 L639.09 265.93 L639.55 266.07 L640.01 266.2 L640.48 266.34 L640.94 266.49 L641.4 266.64 L641.86 266.79 L642.32 266.94 L642.79 267.1 L643.25 267.26 L643.71 267.43 L644.17 267.6 L644.63 267.77 L645.1 267.95 L645.56 268.13 L646.02 268.32 L646.48 268.51 L646.94 268.71 L647.41 268.9 L647.87 269.11 L648.33 269.31 L648.79 269.53 L649.26 269.74 L649.72 269.96 L650.18 270.19 L650.64 270.41 L651.1 270.65 L651.57 270.89 L652.03 271.13 L652.49 271.38 L652.95 271.63 L653.41 271.88 L653.88 272.14 L654.34 272.41 L654.8 272.68 L655.26 272.96 L655.72 273.24 L656.19 273.52 L656.65 273.81 L657.11 274.1 L657.57 274.4 L658.04 274.71 L658.5 275.02 L658.96 275.33 L659.42 275.65 L659.88 275.97 L660.35 276.3 L660.81 276.64 L661.27 276.98 L661.73 277.32 L662.19 277.67 L662.66 278.02 L663.12 278.38 L663.58 278.74 L664.04 279.11 L664.5 279.49 L664.97 279.87 L665.43 280.25 L665.89 280.64 L666.35 281.03 L666.82 281.43 L667.28 281.83 L667.74 282.24 L668.2 282.66 L668.66 283.07 L669.13 283.5 L669.59 283.93 L670.05 284.36 L670.51 284.8 L670.97 285.24 L671.44 285.69 L671.9 286.14 L672.36 286.6 L672.82 287.06 L673.28 287.52 L673.75 288 L674.21 288.47 L674.67 288.95 L675.13 289.44 L675.59 289.93 L676.06 290.42 L676.52 290.92 L676.98 291.42 L677.44 291.93 L677.91 292.44 L678.37 292.96 L678.83 293.48 L679.29 294 L679.75 294.53 L680.22 295.06 L680.68 295.6 L681.14 296.14 L681.6 296.68 L682.06 297.23 L682.53 297.78 L682.99 298.33 L683.45 298.89 L683.91 299.45 L684.37 300.02 L684.84 300.59 L685.3 301.16 L685.76 301.74 L686.22 302.32 L686.69 302.9 L687.15 303.48 L687.61 304.07 L688.07 304.66 L688.53 305.26 L689 305.85 L689.46 306.45 L689.92 307.05 L690.38 307.66 L690.84 308.27 L691.31 308.87 L691.77 309.49 L692.23 310.1 L692.69 310.71 L693.15 311.33 L693.62 311.95 L694.08 312.57 L694.54 313.19 L695 313.82 L695.47 314.44 L695.93 315.07 L696.39 315.7 L696.85 316.33 L697.31 316.96 L697.78 317.59 L698.24 318.22 L698.7 318.86 L699.16 319.49 L699.62 320.12 L700.09 320.76 L700.55 321.39 L701.01 322.03 L701.47 322.66 L701.93 323.3 L702.4 323.94 L702.86 324.57 L703.32 325.21 L703.78 325.84 L704.25 326.47 L704.71 327.11 L705.17 327.74 L705.63 328.37 L706.09 329 L706.56 329.63 L707.02 330.26 L707.48 330.89 L707.94 331.52 L708.4 332.14 L708.87 332.76 L709.33 333.38 L709.79 334 L710.25 334.62 L710.71 335.24 L711.18 335.85 L711.64 336.46 L712.1 337.07 L712.56 337.67 L713.03 338.28 L713.49 338.88 L713.95 339.48 L714.41 340.07 L714.87 340.66 L715.34 341.25 L715.8 341.84 L716.26 342.42 L716.72 343 L717.18 343.57 L717.65 344.14 L718.11 344.71 L718.57 345.27 L719.03 345.83 L719.49 346.39 L719.96 346.94 L720.42 347.48 L720.88 348.03 L721.34 348.56 L721.81 349.1 L722.27 349.62 L722.73 350.15 L723.19 350.67 L723.65 351.18 L724.12 351.69 L724.58 352.19 L725.04 352.69 L725.5 353.18 L725.96 353.67 L726.43 354.15 L726.89 354.62 L727.35 355.09 L727.81 355.56 L728.27 356.02 L728.74 356.47 L729.2 356.91 L729.66 357.35 L730.12 357.79 L730.59 358.21 L731.05 358.63 L731.51 359.05 L731.97 359.46 L732.43 359.86 L732.9 360.25 L733.36 360.64 L733.82 361.02 L734.28 361.39 L734.74 361.76 L735.21 362.12 L735.67 362.47 L736.13 362.82 L736.59 363.15 L737.05 363.48 L737.52 363.81 L737.98 364.12 L738.44 364.43 L738.9 364.73 L739.37 365.03 L739.83 365.31 L740.29 365.59 L740.75 365.86 L741.21 366.12 L741.68 366.38 L742.14 366.4 L742.6 366.4" stroke="#cc4440" stroke-width="1.75" fill="none" stroke-linejoin="round" stroke-dasharray="10 6.8" clip-path="url(#clipd)"/>
<path d="M465.8 283.41 L466.26 283.11 L466.72 282.8 L467.19 282.5 L467.65 282.19 L468.11 281.88 L468.57 281.57 L469.03 281.26 L469.5 280.94 L469.96 280.63 L470.42 280.31 L470.88 279.99 L471.35 279.67 L471.81 279.35 L472.27 279.03 L472.73 278.7 L473.19 278.38 L473.66 278.05 L474.12 277.72 L474.58 277.38 L475.04 277.05 L475.5 276.71 L475.97 276.38 L476.43 276.04 L476.89 275.7 L477.35 275.35 L477.81 275.01 L478.28 274.66 L478.74 274.32 L479.2 273.97 L479.66 273.61 L480.13 273.26 L480.59 272.91 L481.05 272.55 L481.51 272.19 L481.97 271.83 L482.44 271.47 L482.9 271.11 L483.36 270.74 L483.82 270.38 L484.28 270.01 L484.75 269.64 L485.21 269.27 L485.67 268.9 L486.13 268.52 L486.59 268.15 L487.06 267.77 L487.52 267.39 L487.98 267.01 L488.44 266.63 L488.91 266.25 L489.37 265.86 L489.83 265.48 L490.29 265.09 L490.75 264.7 L491.22 264.31 L491.68 263.92 L492.14 263.53 L492.6 263.14 L493.06 262.74 L493.53 262.35 L493.99 261.95 L494.45 261.55 L494.91 261.15 L495.37 260.76 L495.84 260.36 L496.3 259.95 L496.76 259.55 L497.22 259.15 L497.69 258.75 L498.15 258.34 L498.61 257.94 L499.07 257.53 L499.53 257.12 L500 256.72 L500.46 256.31 L500.92 255.9 L501.38 255.49 L501.84 255.09 L502.31 254.68 L502.77 254.27 L503.23 253.86 L503.69 253.45 L504.15 253.04 L504.62 252.63 L505.08 252.22 L505.54 251.81 L506 251.4 L506.47 250.98 L506.93 250.57 L507.39 250.16 L507.85 249.75 L508.31 249.34 L508.78 248.93 L509.24 248.53 L509.7 248.12 L510.16 247.71 L510.62 247.3 L511.09 246.89 L511.55 246.49 L512.01 246.08 L512.47 245.67 L512.93 245.27 L513.4 244.86 L513.86 244.46 L514.32 244.06 L514.78 243.66 L515.25 243.25 L515.71 242.85 L516.17 242.46 L516.63 242.06 L517.09 241.66 L517.56 241.26 L518.02 240.87 L518.48 240.48 L518.94 240.08 L519.4 239.69 L519.87 239.3 L520.33 238.92 L520.79 238.53 L521.25 238.15 L521.71 237.76 L522.18 237.38 L522.64 237 L523.1 236.62 L523.56 236.24 L524.03 235.87 L524.49 235.49 L524.95 235.12 L525.41 234.75 L525.87 234.39 L526.34 234.02 L526.8 233.65 L527.26 233.29 L527.72 232.93 L528.18 232.57 L528.65 232.22 L529.11 231.86 L529.57 231.51 L530.03 231.16 L530.49 230.82 L530.96 230.47 L531.42 230.13 L531.88 229.79 L532.34 229.45 L532.81 229.11 L533.27 228.78 L533.73 228.45 L534.19 228.12 L534.65 227.8 L535.12 227.47 L535.58 227.15 L536.04 226.83 L536.5 226.52 L536.96 226.2 L537.43 225.89 L537.89 225.59 L538.35 225.28 L538.81 224.98 L539.27 224.68 L539.74 224.38 L540.2 224.09 L540.66 223.79 L541.12 223.5 L541.58 223.22 L542.05 222.93 L542.51 222.65 L542.97 222.38 L543.43 222.1 L543.9 221.83 L544.36 221.56 L544.82 221.29 L545.28 221.03 L545.74 220.77 L546.21 220.51 L546.67 220.26 L547.13 220 L547.59 219.75 L548.05 219.51 L548.52 219.26 L548.98 219.02 L549.44 218.79 L549.9 218.55 L550.36 218.32 L550.83 218.09 L551.29 217.86 L551.75 217.64 L552.21 217.42 L552.68 217.2 L553.14 216.99 L553.6 216.78 L554.06 216.57 L554.52 216.36 L554.99 216.16 L555.45 215.96 L555.91 215.76 L556.37 215.56 L556.83 215.37 L557.3 215.18 L557.76 215 L558.22 214.81 L558.68 214.63 L559.14 214.46 L559.61 214.28 L560.07 214.11 L560.53 213.94 L560.99 213.77 L561.46 213.61 L561.92 213.45 L562.38 213.29 L562.84 213.13 L563.3 212.98 L563.77 212.83 L564.23 212.68 L564.69 212.53 L565.15 212.39 L565.61 212.25 L566.08 212.11 L566.54 211.97 L567 211.84 L567.46 211.71 L567.92 211.58 L568.39 211.46 L568.85 211.33 L569.31 211.21 L569.77 211.09 L570.24 210.98 L570.7 210.86 L571.16 210.75 L571.62 210.64 L572.08 210.53 L572.55 210.43 L573.01 210.33 L573.47 210.23 L573.93 210.13 L574.39 210.03 L574.86 209.94 L575.32 209.85 L575.78 209.76 L576.24 209.67 L576.7 209.58 L577.17 209.5 L577.63 209.42 L578.09 209.34 L578.55 209.26 L579.02 209.18 L579.48 209.11 L579.94 209.04 L580.4 208.97 L580.86 208.9 L581.33 208.83 L581.79 208.77 L582.25 208.7 L582.71 208.64 L583.17 208.58 L583.64 208.53 L584.1 208.47 L584.56 208.42 L585.02 208.36 L585.48 208.31 L585.95 208.26 L586.41 208.21 L586.87 208.17 L587.33 208.12 L587.8 208.08 L588.26 208.04 L588.72 208 L589.18 207.96 L589.64 207.92 L590.11 207.88 L590.57 207.85 L591.03 207.82 L591.49 207.79 L591.95 207.76 L592.42 207.73 L592.88 207.7 L593.34 207.67 L593.8 207.65 L594.26 207.62 L594.73 207.6 L595.19 207.58 L595.65 207.56 L596.11 207.54 L596.58 207.53 L597.04 207.51 L597.5 207.49 L597.96 207.48 L598.42 207.47 L598.89 207.46 L599.35 207.45 L599.81 207.44 L600.27 207.43 L600.73 207.43 L601.2 207.42 L601.66 207.42 L602.12 207.41 L602.58 207.41 L603.04 207.41 L603.51 207.41 L603.97 207.41 L604.43 207.42 L604.89 207.42 L605.36 207.43 L605.82 207.43 L606.28 207.44 L606.74 207.45 L607.2 207.46 L607.67 207.47 L608.13 207.48 L608.59 207.5 L609.05 207.51 L609.51 207.53 L609.98 207.54 L610.44 207.56 L610.9 207.58 L611.36 207.6 L611.82 207.63 L612.29 207.65 L612.75 207.67 L613.21 207.7 L613.67 207.73 L614.14 207.75 L614.6 207.78 L615.06 207.81 L615.52 207.85 L615.98 207.88 L616.45 207.91 L616.91 207.95 L617.37 207.99 L617.83 208.02 L618.29 208.06 L618.76 208.11 L619.22 208.15 L619.68 208.19 L620.14 208.24 L620.6 208.29 L621.07 208.33 L621.53 208.38 L621.99 208.44 L622.45 208.49 L622.92 208.54 L623.38 208.6 L623.84 208.66 L624.3 208.72 L624.76 208.78 L625.23 208.84 L625.69 208.9 L626.15 208.97 L626.61 209.04 L627.07 209.11 L627.54 209.18 L628 209.25 L628.46 209.33 L628.92 209.4 L629.38 209.48 L629.85 209.56 L630.31 209.64 L630.77 209.73 L631.23 209.81 L631.7 209.9 L632.16 209.99 L632.62 210.08 L633.08 210.17 L633.54 210.27 L634.01 210.37 L634.47 210.47 L634.93 210.57 L635.39 210.67 L635.85 210.78 L636.32 210.88 L636.78 210.99 L637.24 211.11 L637.7 211.22 L638.16 211.34 L638.63 211.46 L639.09 211.58 L639.55 211.7 L640.01 211.83 L640.48 211.96 L640.94 212.09 L641.4 212.22 L641.86 212.35 L642.32 212.49 L642.79 212.63 L643.25 212.77 L643.71 212.92 L644.17 213.07 L644.63 213.22 L645.1 213.37 L645.56 213.52 L646.02 213.68 L646.48 213.84 L646.94 214.01 L647.41 214.17 L647.87 214.34 L648.33 214.51 L648.79 214.68 L649.26 214.86 L649.72 215.04 L650.18 215.22 L650.64 215.4 L651.1 215.59 L651.57 215.78 L652.03 215.97 L652.49 216.17 L652.95 216.36 L653.41 216.56 L653.88 216.77 L654.34 216.97 L654.8 217.18 L655.26 217.39 L655.72 217.61 L656.19 217.82 L656.65 218.04 L657.11 218.27 L657.57 218.49 L658.04 218.72 L658.5 218.95 L658.96 219.19 L659.42 219.42 L659.88 219.66 L660.35 219.91 L660.81 220.15 L661.27 220.4 L661.73 220.65 L662.19 220.9 L662.66 221.16 L663.12 221.42 L663.58 221.68 L664.04 221.95 L664.5 222.21 L664.97 222.49 L665.43 222.76 L665.89 223.03 L666.35 223.31 L666.82 223.59 L667.28 223.88 L667.74 224.17 L668.2 224.46 L668.66 224.75 L669.13 225.04 L669.59 225.34 L670.05 225.64 L670.51 225.94 L670.97 226.25 L671.44 226.56 L671.9 226.87 L672.36 227.18 L672.82 227.5 L673.28 227.82 L673.75 228.14 L674.21 228.46 L674.67 228.79 L675.13 229.11 L675.59 229.45 L676.06 229.78 L676.52 230.11 L676.98 230.45 L677.44 230.79 L677.91 231.13 L678.37 231.48 L678.83 231.82 L679.29 232.17 L679.75 232.52 L680.22 232.88 L680.68 233.23 L681.14 233.59 L681.6 233.95 L682.06 234.31 L682.53 234.67 L682.99 235.04 L683.45 235.4 L683.91 235.77 L684.37 236.14 L684.84 236.52 L685.3 236.89 L685.76 237.27 L686.22 237.64 L686.69 238.02 L687.15 238.4 L687.61 238.79 L688.07 239.17 L688.53 239.55 L689 239.94 L689.46 240.33 L689.92 240.72 L690.38 241.11 L690.84 241.5 L691.31 241.89 L691.77 242.29 L692.23 242.68 L692.69 243.08 L693.15 243.48 L693.62 243.87 L694.08 244.27 L694.54 244.67 L695 245.08 L695.47 245.48 L695.93 245.88 L696.39 246.28 L696.85 246.69 L697.31 247.09 L697.78 247.5 L698.24 247.9 L698.7 248.31 L699.16 248.72 L699.62 249.12 L700.09 249.53 L700.55 249.94 L701.01 250.35 L701.47 250.76 L701.93 251.16 L702.4 251.57 L702.86 251.98 L703.32 252.39 L703.78 252.8 L704.25 253.21 L704.71 253.62 L705.17 254.03 L705.63 254.44 L706.09 254.84 L706.56 255.25 L707.02 255.66 L707.48 256.07 L707.94 256.47 L708.4 256.88 L708.87 257.29 L709.33 257.69 L709.79 258.1 L710.25 258.5 L710.71 258.91 L711.18 259.31 L711.64 259.71 L712.1 260.12 L712.56 260.52 L713.03 260.92 L713.49 261.32 L713.95 261.72 L714.41 262.11 L714.87 262.51 L715.34 262.91 L715.8 263.3 L716.26 263.7 L716.72 264.09 L717.18 264.48 L717.65 264.87 L718.11 265.26 L718.57 265.65 L719.03 266.04 L719.49 266.42 L719.96 266.81 L720.42 267.19 L720.88 267.57 L721.34 267.95 L721.81 268.33 L722.27 268.71 L722.73 269.09 L723.19 269.46 L723.65 269.84 L724.12 270.21 L724.58 270.58 L725.04 270.95 L725.5 271.32 L725.96 271.69 L726.43 272.05 L726.89 272.41 L727.35 272.78 L727.81 273.14 L728.27 273.49 L728.74 273.85 L729.2 274.21 L729.66 274.56 L730.12 274.91 L730.59 275.26 L731.05 275.61 L731.51 275.96 L731.97 276.31 L732.43 276.65 L732.9 276.99 L733.36 277.33 L733.82 277.67 L734.28 278.01 L734.74 278.35 L735.21 278.68 L735.67 279.02 L736.13 279.35 L736.59 279.68 L737.05 280 L737.52 280.33 L737.98 280.66 L738.44 280.98 L738.9 281.3 L739.37 281.62 L739.83 281.94 L740.29 282.26 L740.75 282.57 L741.21 282.89 L741.68 283.2 L742.14 283.51 L742.6 283.83" stroke="#5fac5a" stroke-width="1.65" fill="none" stroke-linejoin="round" clip-path="url(#clipd)"/>
<rect x="71.55" y="5.7" width="286.8" height="177.7" fill="none" stroke="#707070" stroke-width="1.15"/>
<rect x="460.55" y="5.8" width="286.85" height="177.6" fill="none" stroke="#707070" stroke-width="1.15"/>
<rect x="71.55" y="198.9" width="286.8" height="176.45" fill="none" stroke="#707070" stroke-width="1.15"/>
<rect x="460.55" y="198.5" width="286.85" height="176.85" fill="none" stroke="#707070" stroke-width="1.15"/>
<text transform="translate(65.8 12.73) scale(0.96 1)" font-size="17" text-anchor="end" font-family="Liberation Serif" >1.8</text>
<text transform="translate(65.8 55.03) scale(0.96 1)" font-size="17" text-anchor="end" font-family="Liberation Serif" >1.6</text>
<text transform="translate(65.8 96.83) scale(0.96 1)" font-size="17" text-anchor="end" font-family="Liberation Serif" >1.4</text>
<text transform="translate(65.8 138.23) scale(0.96 1)" font-size="17" text-anchor="end" font-family="Liberation Serif" >1.2</text>
<text transform="translate(65.6 179.73) scale(0.96 1)" font-size="17" text-anchor="end" font-family="Liberation Serif" >1.0</text>
<text transform="translate(454.7 33.33) scale(0.96 1)" font-size="17" text-anchor="end" font-family="Liberation Serif" >0.12</text>
<text transform="translate(454.7 57.93) scale(0.96 1)" font-size="17" text-anchor="end" font-family="Liberation Serif" >0.10</text>
<text transform="translate(454.7 82.53) scale(0.96 1)" font-size="17" text-anchor="end" font-family="Liberation Serif" >0.08</text>
<text transform="translate(454.7 107.13) scale(0.96 1)" font-size="17" text-anchor="end" font-family="Liberation Serif" >0.06</text>
<text transform="translate(454.7 131.63) scale(0.96 1)" font-size="17" text-anchor="end" font-family="Liberation Serif" >0.04</text>
<text transform="translate(454.7 156.23) scale(0.96 1)" font-size="17" text-anchor="end" font-family="Liberation Serif" >0.02</text>
<text transform="translate(454.7 180.83) scale(0.96 1)" font-size="17" text-anchor="end" font-family="Liberation Serif" >0.00</text>
<text transform="translate(66.3 243.53) scale(0.96 1)" font-size="17" text-anchor="end" font-family="Liberation Serif" >0.6</text>
<text transform="translate(66.3 286.43) scale(0.96 1)" font-size="17" text-anchor="end" font-family="Liberation Serif" >0.4</text>
<text transform="translate(66.3 329.53) scale(0.96 1)" font-size="17" text-anchor="end" font-family="Liberation Serif" >0.2</text>
<text transform="translate(66.3 372.43) scale(0.96 1)" font-size="17" text-anchor="end" font-family="Liberation Serif" >0.0</text>
<text transform="translate(454.6 228.63) scale(0.96 1)" font-size="17" text-anchor="end" font-family="Liberation Serif" >1.5</text>
<text transform="translate(455.2 277.13) scale(0.96 1)" font-size="17" text-anchor="end" font-family="Liberation Serif" >1.0</text>
<text transform="translate(455 324.13) scale(0.96 1)" font-size="17" text-anchor="end" font-family="Liberation Serif" >0.5</text>
<text transform="translate(455.8 372.43) scale(0.96 1)" font-size="17" text-anchor="end" font-family="Liberation Serif" >0.0</text>
<text transform="translate(77.3 391.9) scale(0.96 1)" font-size="17" text-anchor="middle" font-family="Liberation Serif" >0</text>
<text transform="translate(466.6 391.9) scale(0.96 1)" font-size="17" text-anchor="middle" font-family="Liberation Serif" >0</text>
<text transform="translate(166.5 391.9) scale(0.96 1)" font-size="17" text-anchor="middle" font-family="Liberation Serif" >π/6</text>
<text transform="translate(555.8 391.9) scale(0.96 1)" font-size="17" text-anchor="middle" font-family="Liberation Serif" >π/6</text>
<text transform="translate(255.2 391.9) scale(0.96 1)" font-size="17" text-anchor="middle" font-family="Liberation Serif" >π/3</text>
<text transform="translate(644.5 391.9) scale(0.96 1)" font-size="17" text-anchor="middle" font-family="Liberation Serif" >π/3</text>
<text transform="translate(343.4 391.9) scale(0.96 1)" font-size="17" text-anchor="middle" font-family="Liberation Serif" >π/2</text>
<text transform="translate(732.7 391.9) scale(0.96 1)" font-size="17" text-anchor="middle" font-family="Liberation Serif" >π/2</text>
<text x="82.6" y="35" font-size="25" text-anchor="start" font-family="Liberation Serif" >(a)</text>
<text x="472.1" y="35" font-size="25" text-anchor="start" font-family="Liberation Serif" >(b)</text>
<text x="82.9" y="227.1" font-size="25" text-anchor="start" font-family="Liberation Serif" >(c)</text>
<text x="472.1" y="227.5" font-size="25" text-anchor="start" font-family="Liberation Serif" >(d)</text>
<text transform="translate(212.7 427.2) scale(1.12 1)" font-size="32.4" text-anchor="middle" font-family="Liberation Serif" >θ</text>
<text transform="translate(605.2 427.8) scale(1.12 1)" font-size="32.4" text-anchor="middle" font-family="Liberation Serif" >θ</text>
<text x="1.5" y="297.3" font-size="33" text-anchor="start" font-family="Liberation Serif" >E</text>
<text x="21.2" y="302.5" font-size="33" text-anchor="start" font-family="Liberation Serif" >n</text>
<text x="394" y="294" font-size="33" text-anchor="start" font-family="Liberation Serif" >D</text>
<text transform="translate(384.8 109.3) scale(1.06 1)" font-size="34" text-anchor="start" font-family="Liberation Serif" >S</text>
<text x="402" y="91.8" font-size="11.5" text-anchor="start" font-family="Liberation Serif" stroke="#000" stroke-width="0.25">A</text>
<text x="419" y="91.7" font-size="11.5" text-anchor="start" font-family="Liberation Serif" stroke="#000" stroke-width="0.25">B</text>
<rect x="409.2" y="87.3" width="6.6" height="1.9" fill="#a8a8a8"/>
<path d="M412.9 84.6 L418.3 88.1 L412.9 91.6" stroke="#000" stroke-width="1.5" fill="none"/>
<g fill="none" stroke="#000" stroke-linecap="round"><path d="M10.1 81.0 L11.5 81.3 C11.3 84.5 11.0 87.3 10.5 90.0 C10.1 92 9.6 93.5 9.0 95.0 C8.2 97 7.4 98.6 6.6 100.0 C5.5 101.9 4.4 103.3 3.2 104.4 C3.6 103 4.1 101.5 4.7 100.0 C5.3 98.3 5.9 96.7 6.5 95.0 C7.0 93.3 7.4 91.7 7.9 90.0 C8.3 88.6 8.7 87.3 9.0 86.0 C9.4 84.3 9.7 82.6 10.1 81.0 Z" fill="#000" stroke="none"/><path d="M6.3 83.6 C7.8 82.5 9.2 81.7 10.8 81.2" stroke-width="1.2"/><circle cx="6.4" cy="83.5" r="0.8" fill="#000" stroke="none"/><path d="M11.0 87.0 C12.6 84.8 14.6 82.6 17.2 81.6" stroke-width="1.35"/><path d="M17.0 81.6 C19.5 80.6 22.6 80.9 23.2 83.3 C23.7 85.5 22.3 88.0 19.5 89.8 C17.5 91.0 15.0 91.6 12.2 91.9" stroke-width="2.05" stroke-linecap="butt"/><path d="M12.3 91.6 C14.5 91.2 18.5 91.6 20.8 93.7" stroke-width="1.6"/><path d="M20.6 93.5 C22.5 95.2 22.6 98.5 21.0 100.2 C19.4 102.0 16.5 103.5 12.6 103.7" stroke-width="2.25" stroke-linecap="butt"/><path d="M12.8 103.7 C10.2 103.7 8.4 103.0 7.3 101.4" stroke-width="1.8"/></g>
</svg>
</body></html>
